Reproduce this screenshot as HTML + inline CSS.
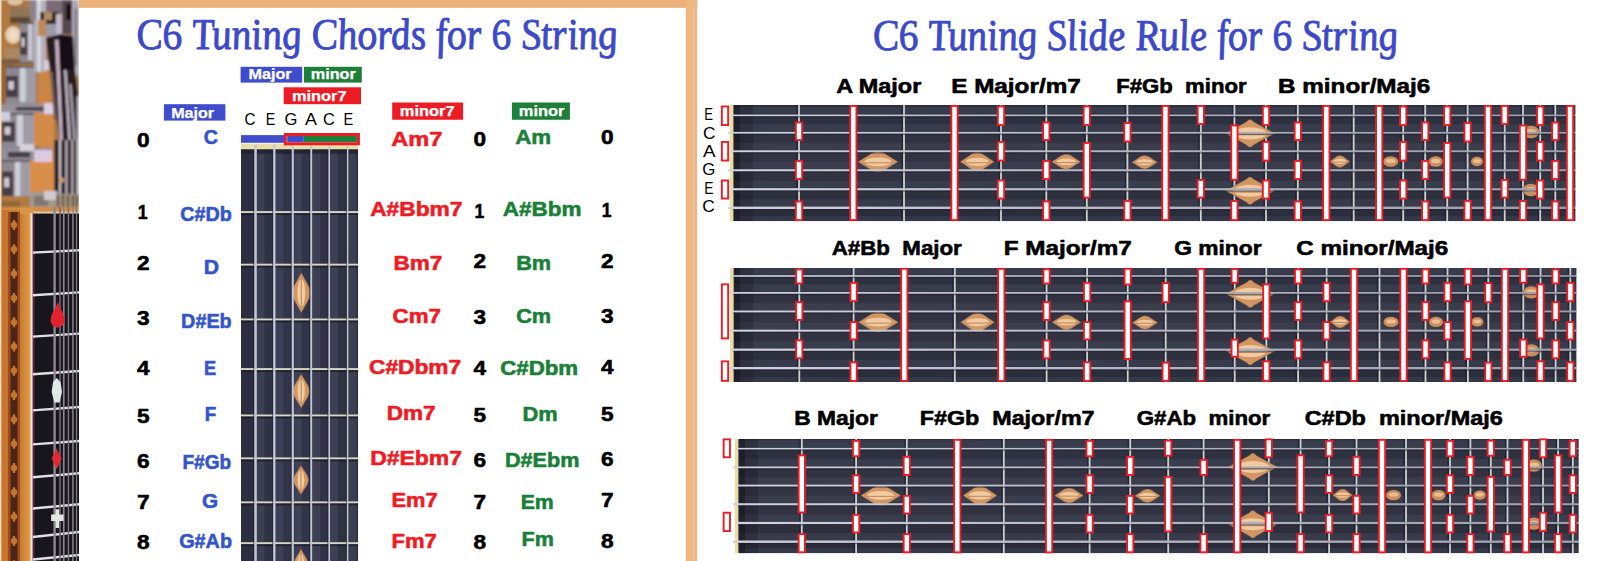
<!DOCTYPE html>
<html lang="en"><head><meta charset="utf-8"><title>C6 Tuning Chords and Slide Rule for 6 String</title>
<style>html,body{margin:0;padding:0;background:#fff;overflow:hidden}body{width:1600px;height:561px;font-family:"Liberation Sans",sans-serif}svg{display:block;position:absolute;left:0;top:0}text{white-space:pre}</style></head><body>
<svg width="1600" height="561" viewBox="0 0 1600 561">
<defs>
<linearGradient id="fbh1" x1="0" y1="0" x2="0" y2="1"><stop offset="0" stop-color="#2d2f3e"/><stop offset="0.5" stop-color="#323443"/><stop offset="1" stop-color="#2a2c3a"/></linearGradient>
<linearGradient id="fbh2" x1="0" y1="0" x2="0" y2="1"><stop offset="0" stop-color="#2d2f3e"/><stop offset="0.5" stop-color="#323443"/><stop offset="1" stop-color="#2a2c3a"/></linearGradient>
<linearGradient id="fbh3" x1="0" y1="0" x2="0" y2="1"><stop offset="0" stop-color="#2d2f3e"/><stop offset="0.5" stop-color="#323443"/><stop offset="1" stop-color="#2a2c3a"/></linearGradient>
<linearGradient id="fbv" x1="0" y1="0" x2="1" y2="0"><stop offset="0" stop-color="#2b2d3e"/><stop offset="0.5" stop-color="#34364b"/><stop offset="1" stop-color="#2d2f40"/></linearGradient>
<linearGradient id="wood" x1="0" y1="0" x2="1" y2="0"><stop offset="0" stop-color="#c6742c"/><stop offset="0.62" stop-color="#cc7c30"/><stop offset="0.84" stop-color="#da9444"/><stop offset="1" stop-color="#e4a858"/></linearGradient>
<filter id="soft" x="-5%" y="-5%" width="110%" height="110%"><feGaussianBlur stdDeviation="0.9"/></filter>
<filter id="soft2" x="-5%" y="-5%" width="110%" height="110%"><feGaussianBlur stdDeviation="0.45"/></filter>
<linearGradient id="strg" x1="0" y1="0" x2="1" y2="0"><stop offset="0" stop-color="#d0d3dd"/><stop offset="0.45" stop-color="#b4b7c2"/><stop offset="1" stop-color="#9c9fab"/></linearGradient>
</defs>
<rect x="0.00" y="0.00" width="1600.00" height="561.00" fill="#ffffff" />
<rect x="79.00" y="0.00" width="618.20" height="7.70" fill="#eeb07a" />
<rect x="79.00" y="5.20" width="607.00" height="2.50" fill="#e8b482" />
<rect x="685.75" y="0.00" width="7.85" height="561.00" fill="#f1b67d" />
<rect x="693.60" y="0.00" width="3.60" height="561.00" fill="#e7b78d" />
<clipPath id="pc"><rect x="0" y="0" width="79" height="561"/></clipPath>
<g id="photo" clip-path="url(#pc)">
<g filter="url(#soft)">
<rect x="0.0" y="0.0" width="79.0" height="212.0" fill="#a8784a" />
<rect x="0.0" y="0.0" width="14.0" height="212.0" fill="#b27a40" />
<rect x="0.0" y="60.0" width="14.0" height="50.0" fill="#9a6630" />
<rect x="38.0" y="70.0" width="14.0" height="36.0" fill="#cc8444" />
<rect x="34.0" y="113.0" width="20.0" height="33.0" fill="#d48a48" />
<rect x="28.0" y="158.0" width="29.0" height="38.0" fill="#d98e4a" />
<rect x="40.0" y="146.0" width="14.0" height="14.0" fill="#c98850" />
<ellipse cx="15" cy="2" rx="10" ry="6" fill="#a06c38"/><ellipse cx="15" cy="1" rx="8" ry="4.5" fill="#e0c4a2"/>
<ellipse cx="13" cy="35" rx="10.5" ry="11.5" fill="#a87238"/><ellipse cx="13" cy="35" rx="8" ry="9" fill="#e6ccae"/><ellipse cx="13" cy="35" rx="4.5" ry="5.5" fill="#efdcc6"/>
<rect x="10.0" y="8.0" width="22.0" height="14.0" fill="#8f7656" />
<rect x="10.0" y="17.0" width="20.0" height="6.0" fill="#5e4630" />
<rect x="5.0" y="48.0" width="19.0" height="12.0" fill="#a98862" />
<rect x="2.0" y="59.0" width="38.0" height="5.0" fill="#7a5c40" />
<rect x="20.0" y="22.0" width="18.0" height="40.0" fill="#8c8892" />
<rect x="28.3" y="24.0" width="3.6" height="36.0" fill="#cfcfd9" />
<rect x="31.9" y="23.0" width="6.1" height="38.0" fill="#a09ca6" />
<rect x="20.0" y="32.4" width="7.2" height="22.4" fill="#463e46" />
<rect x="21.4" y="38.0" width="3.2" height="8.8" fill="#cfcbd6" />
<rect x="20.0" y="22.0" width="18.0" height="2.0" fill="#5a525a" />
<rect x="6.0" y="66.0" width="30.0" height="38.0" fill="#8c8892" />
<rect x="19.8" y="68.0" width="6.0" height="34.0" fill="#cfcfd9" />
<rect x="25.8" y="67.0" width="10.2" height="36.0" fill="#a09ca6" />
<rect x="6.0" y="75.9" width="12.0" height="21.3" fill="#463e46" />
<rect x="8.4" y="81.2" width="5.4" height="8.4" fill="#cfcbd6" />
<rect x="6.0" y="66.0" width="30.0" height="2.0" fill="#5a525a" />
<rect x="2.0" y="113.0" width="32.0" height="35.0" fill="#8c8892" />
<rect x="16.7" y="115.0" width="6.4" height="31.0" fill="#cfcfd9" />
<rect x="23.1" y="114.0" width="10.9" height="33.0" fill="#a09ca6" />
<rect x="2.0" y="122.1" width="12.8" height="19.6" fill="#463e46" />
<rect x="4.6" y="127.0" width="5.8" height="7.7" fill="#cfcbd6" />
<rect x="2.0" y="113.0" width="32.0" height="2.0" fill="#5a525a" />
<rect x="2.0" y="160.0" width="28.0" height="44.0" fill="#8c8892" />
<rect x="14.9" y="162.0" width="5.6" height="40.0" fill="#cfcfd9" />
<rect x="20.5" y="161.0" width="9.5" height="42.0" fill="#a09ca6" />
<rect x="2.0" y="171.4" width="11.2" height="24.6" fill="#463e46" />
<rect x="4.2" y="177.6" width="5.0" height="9.7" fill="#cfcbd6" />
<rect x="2.0" y="160.0" width="28.0" height="2.0" fill="#5a525a" />
<rect x="34.0" y="0.0" width="12.0" height="72.0" fill="#b4b0ba" />
<rect x="37.5" y="0.0" width="3.0" height="72.0" fill="#dedee6" />
<rect x="30.0" y="0.0" width="6.0" height="20.0" fill="#8c848c" />
<rect x="72.0" y="0.0" width="7.0" height="76.0" fill="#aeaab4" />
<rect x="74.5" y="8.0" width="2.5" height="58.0" fill="#7e7882" />
<rect x="0.0" y="104.0" width="54.0" height="9.0" fill="#97919b" />
<rect x="16.0" y="107.0" width="34.0" height="3.5" fill="#463c44" />
<rect x="44.0" y="103.0" width="11.0" height="11.0" fill="#ddd0e2" />
<rect x="0.0" y="112.0" width="10.0" height="9.0" fill="#d0d0da" />
<rect x="0.0" y="148.0" width="52.0" height="12.0" fill="#938e98" />
<rect x="8.0" y="152.0" width="22.0" height="5.5" fill="#463e46" />
<rect x="34.0" y="150.0" width="18.0" height="12.0" fill="#dccae0" />
<rect x="20.0" y="144.0" width="14.0" height="7.0" fill="#d6d2dc" />
<rect x="46.0" y="0.0" width="16.0" height="12.0" fill="#7c6a76" />
<rect x="40.0" y="12.0" width="20.0" height="12.0" fill="#341a28" />
<rect x="44.0" y="12.0" width="8.0" height="8.0" fill="#b08a60" />
<rect x="46.0" y="24.0" width="14.0" height="12.0" fill="#9a9aaa" />
<rect x="38.0" y="20.0" width="8.0" height="16.0" fill="#c08a58" />
<rect x="56.0" y="14.0" width="10.0" height="22.0" fill="#c0b8c4" />
<rect x="62.0" y="0.0" width="10.0" height="34.0" fill="#54464f" />
<rect x="66.0" y="4.0" width="5.0" height="16.0" fill="#1a1016" />
<rect x="44.0" y="60.0" width="14.0" height="10.0" fill="#d6cedb" />
<rect x="48.0" y="50.0" width="8.0" height="12.0" fill="#b08858" />
<polygon points="46,38 60,34 73,36 75,70 79,104 79,142 60,142 55,104 50,72" fill="#281c24"/>
<rect x="60.0" y="36.0" width="13.0" height="34.0" fill="#141016" />
<polygon points="55,40 58.5,40 63,142 60,142" fill="#c9b4c6"/>
<polygon points="64,70 66.5,70 71,142 68.5,142" fill="#c2bcc6"/>
<polygon points="69,84 71.5,84 76,142 73.5,142" fill="#aaa4ae"/>
<polygon points="50,72 53,72 57,120 54,120" fill="#6e5e58"/>
<rect x="76.5" y="96.0" width="2.5" height="46.0" fill="#b0a8b2" />
<rect x="54.0" y="140.0" width="25.0" height="56.0" fill="#4e424a" />
<rect x="55.0" y="140.0" width="3.0" height="56.0" fill="#241a22" />
<rect x="59.0" y="140.0" width="2.0" height="56.0" fill="#cac2ca" />
<rect x="61.7" y="140.0" width="3.0" height="56.0" fill="#20161e" />
<rect x="65.4" y="140.0" width="2.0" height="56.0" fill="#beb6be" />
<rect x="68.1" y="140.0" width="2.6" height="56.0" fill="#281c24" />
<rect x="71.5" y="140.0" width="1.8" height="56.0" fill="#c6bec6" />
<rect x="73.9" y="140.0" width="2.2" height="56.0" fill="#2e222a" />
<rect x="76.6" y="140.0" width="2.0" height="56.0" fill="#dcd8dc" />
<circle cx="62" cy="180" r="2.6" fill="#d89858"/>
<rect x="30.0" y="192.0" width="27.0" height="15.0" fill="#a39990" />
<rect x="34.0" y="196.0" width="14.0" height="10.0" fill="#81776f" />
<rect x="44.0" y="191.0" width="13.0" height="9.0" fill="#cfcacc" />
<rect x="56.0" y="194.0" width="23.0" height="13.0" fill="#a89c8c" />
<rect x="56.7" y="195.0" width="2.6" height="12.0" fill="#6a5844" />
<rect x="61.7" y="195.0" width="2.6" height="12.0" fill="#6a5844" />
<rect x="66.7" y="195.0" width="2.6" height="12.0" fill="#6a5844" />
<rect x="71.7" y="195.0" width="2.6" height="12.0" fill="#6a5844" />
<rect x="75.7" y="195.0" width="2.6" height="12.0" fill="#6a5844" />
<rect x="0.0" y="196.0" width="30.0" height="11.0" fill="#b07a42" />
<rect x="0.0" y="201.0" width="20.0" height="6.0" fill="#96663a" />
<rect x="1.5" y="207.0" width="77.5" height="5.5" fill="#d48c40" />
</g>
<g filter="url(#soft2)">
<rect x="0.0" y="210.0" width="33.0" height="351.0" fill="url(#wood)" />
<rect x="8.0" y="212.0" width="12.0" height="349.0" fill="#9c4c20" />
<rect x="10.5" y="212.0" width="7.0" height="349.0" fill="#4c2612" />
<circle cx="14" cy="225.0" r="3.2" fill="#c27634"/>
<rect x="12.8" y="220.0" width="2.4" height="10" fill="#c27634"/>
<circle cx="14" cy="249.3" r="3.2" fill="#c27634"/>
<rect x="12.8" y="244.3" width="2.4" height="10" fill="#c27634"/>
<circle cx="14" cy="273.6" r="3.2" fill="#c27634"/>
<rect x="12.8" y="268.6" width="2.4" height="10" fill="#c27634"/>
<circle cx="14" cy="297.9" r="3.2" fill="#c27634"/>
<rect x="12.8" y="292.9" width="2.4" height="10" fill="#c27634"/>
<circle cx="14" cy="322.2" r="3.2" fill="#c27634"/>
<rect x="12.8" y="317.2" width="2.4" height="10" fill="#c27634"/>
<circle cx="14" cy="346.5" r="3.2" fill="#c27634"/>
<rect x="12.8" y="341.5" width="2.4" height="10" fill="#c27634"/>
<circle cx="14" cy="370.8" r="3.2" fill="#c27634"/>
<rect x="12.8" y="365.8" width="2.4" height="10" fill="#c27634"/>
<circle cx="14" cy="395.1" r="3.2" fill="#c27634"/>
<rect x="12.8" y="390.1" width="2.4" height="10" fill="#c27634"/>
<circle cx="14" cy="419.4" r="3.2" fill="#c27634"/>
<rect x="12.8" y="414.4" width="2.4" height="10" fill="#c27634"/>
<circle cx="14" cy="443.7" r="3.2" fill="#c27634"/>
<rect x="12.8" y="438.7" width="2.4" height="10" fill="#c27634"/>
<circle cx="14" cy="468.0" r="3.2" fill="#c27634"/>
<rect x="12.8" y="463.0" width="2.4" height="10" fill="#c27634"/>
<circle cx="14" cy="492.3" r="3.2" fill="#c27634"/>
<rect x="12.8" y="487.3" width="2.4" height="10" fill="#c27634"/>
<circle cx="14" cy="516.6" r="3.2" fill="#c27634"/>
<rect x="12.8" y="511.6" width="2.4" height="10" fill="#c27634"/>
<circle cx="14" cy="540.9" r="3.2" fill="#c27634"/>
<rect x="12.8" y="535.9" width="2.4" height="10" fill="#c27634"/>
<circle cx="14" cy="565.2" r="3.2" fill="#c27634"/>
<rect x="12.8" y="560.2" width="2.4" height="10" fill="#c27634"/>
<rect x="20.0" y="207.6" width="13.0" height="6.4" fill="#d89448" />
<rect x="30.4" y="213.0" width="2.4" height="348.0" fill="#efe3d6" />
<rect x="32.8" y="213.5" width="46.2" height="347.5" fill="#17131a" />
<rect x="32.8" y="213.5" width="1.8" height="347.5" fill="#4a2a4a" />
<rect x="0.0" y="0.0" width="1.4" height="561.0" fill="#f1dcc4" />
<polygon points="32.8,251.4 79,249.0 79,251.4 32.8,253.8" fill="#e2dfe6"/>
<polygon points="32.8,294.0 79,291.2 79,293.6 32.8,296.4" fill="#e2dfe6"/>
<polygon points="32.8,335.4 79,332.4 79,334.8 32.8,337.8" fill="#e2dfe6"/>
<polygon points="32.8,373.0 79,369.8 79,372.2 32.8,375.4" fill="#e2dfe6"/>
<polygon points="32.8,409.2 79,405.8 79,408.2 32.8,411.6" fill="#e2dfe6"/>
<polygon points="32.8,443.2 79,439.8 79,442.2 32.8,445.6" fill="#e2dfe6"/>
<polygon points="32.8,476.1 79,472.1 79,474.5 32.8,478.5" fill="#e2dfe6"/>
<polygon points="32.8,507.3 79,503.1 79,505.5 32.8,509.7" fill="#e2dfe6"/>
<polygon points="32.8,535.8 79,530.8 79,533.2 32.8,538.2" fill="#e2dfe6"/>
<polygon points="32.8,558.3 79,553.8 79,556.2 32.8,560.7" fill="#e2dfe6"/>
<rect x="53.4" y="207.0" width="2.4" height="354.0" fill="#8c8892" />
<rect x="59.2" y="207.0" width="1.6" height="354.0" fill="#6e6a74" />
<rect x="62.9" y="207.0" width="1.7" height="354.0" fill="#8a8690" />
<rect x="67.7" y="207.0" width="1.5" height="354.0" fill="#77737d" />
<rect x="72.2" y="207.0" width="1.4" height="354.0" fill="#8f8b95" />
<rect x="75.9" y="207.0" width="1.3" height="354.0" fill="#7f7b85" />
<path d="M57.9,301.5 C59.5,308 64.5,314 64.6,320 C64.6,325 60.5,327.5 57.6,327.6 C54.5,327.5 50.6,325 50.6,320 C50.8,314 56,308 57.9,301.5 Z" fill="#e0222e"/>
<path d="M56.8,378 L60.5,382 L62,392 L59.5,402.5 L54.5,402.5 L51.6,392 L53,382 Z" fill="#dfe9e4"/>
<path d="M56.6,448.5 L61.6,458.5 L56.8,469.5 L51.6,458.5 Z" fill="#df2a34"/>
<path d="M55.5,509.3 h3.6 v5.2 h4.4 v6.5 h-4.4 v7 h-3.6 v-7 h-4.4 v-6.5 h4.4 Z" fill="#e3e8e2"/>
</g>
</g>
<text x="137.60" y="49.40" font-family="'Liberation Serif', sans-serif" font-size="44" font-weight="normal" font-style="italic" fill="#3c49c9" textLength="481.40" lengthAdjust="spacingAndGlyphs" transform="translate(137.6,49.4) skewX(7) translate(-137.6,-49.4)" stroke="#3c49c9" stroke-width="0.9" stroke-linejoin="round">C6 Tuning Chords for 6 String</text>
<rect x="240.60" y="66.80" width="61.60" height="15.80" fill="#3f4ccb" />
<rect x="303.90" y="66.80" width="57.90" height="15.80" fill="#1d7f38" />
<rect x="283.70" y="87.30" width="77.30" height="16.90" fill="#ed1c24" />
<rect x="163.90" y="104.20" width="61.50" height="16.40" fill="#3f4ccb" />
<rect x="392.20" y="102.50" width="70.90" height="17.25" fill="#ed1c24" />
<rect x="511.90" y="102.50" width="58.00" height="17.25" fill="#1d7f38" />
<text x="248.40" y="79.40" font-family="'Liberation Sans', sans-serif" font-size="14.0" font-weight="bold" font-style="normal" fill="#fff" textLength="43.20" lengthAdjust="spacingAndGlyphs"  stroke="#fff" stroke-width="0.25" stroke-linejoin="round">Major</text>
<text x="310.80" y="79.40" font-family="'Liberation Sans', sans-serif" font-size="14.0" font-weight="bold" font-style="normal" fill="#fff" textLength="45.00" lengthAdjust="spacingAndGlyphs"  stroke="#fff" stroke-width="0.25" stroke-linejoin="round">minor</text>
<text x="292.00" y="100.80" font-family="'Liberation Sans', sans-serif" font-size="14.0" font-weight="bold" font-style="normal" fill="#fff" textLength="54.60" lengthAdjust="spacingAndGlyphs"  stroke="#fff" stroke-width="0.25" stroke-linejoin="round">minor7</text>
<text x="171.20" y="118.00" font-family="'Liberation Sans', sans-serif" font-size="14.0" font-weight="bold" font-style="normal" fill="#fff" textLength="42.80" lengthAdjust="spacingAndGlyphs"  stroke="#fff" stroke-width="0.25" stroke-linejoin="round">Major</text>
<text x="399.80" y="116.10" font-family="'Liberation Sans', sans-serif" font-size="14.0" font-weight="bold" font-style="normal" fill="#fff" textLength="54.80" lengthAdjust="spacingAndGlyphs"  stroke="#fff" stroke-width="0.25" stroke-linejoin="round">minor7</text>
<text x="518.80" y="116.10" font-family="'Liberation Sans', sans-serif" font-size="14.0" font-weight="bold" font-style="normal" fill="#fff" textLength="45.60" lengthAdjust="spacingAndGlyphs"  stroke="#fff" stroke-width="0.25" stroke-linejoin="round">minor</text>
<text x="244.40" y="124.50" font-family="'Liberation Sans', sans-serif" font-size="17.2" font-weight="normal" font-style="normal" fill="#000" textLength="11.00" lengthAdjust="spacingAndGlyphs" >C</text>
<text x="265.80" y="124.50" font-family="'Liberation Sans', sans-serif" font-size="17.2" font-weight="normal" font-style="normal" fill="#000" textLength="9.60" lengthAdjust="spacingAndGlyphs" >E</text>
<text x="284.40" y="124.50" font-family="'Liberation Sans', sans-serif" font-size="17.2" font-weight="normal" font-style="normal" fill="#000" textLength="12.90" lengthAdjust="spacingAndGlyphs" >G</text>
<text x="305.00" y="124.50" font-family="'Liberation Sans', sans-serif" font-size="17.2" font-weight="normal" font-style="normal" fill="#000" textLength="11.90" lengthAdjust="spacingAndGlyphs" >A</text>
<text x="322.90" y="124.50" font-family="'Liberation Sans', sans-serif" font-size="17.2" font-weight="normal" font-style="normal" fill="#000" textLength="11.90" lengthAdjust="spacingAndGlyphs" >C</text>
<text x="343.40" y="124.50" font-family="'Liberation Sans', sans-serif" font-size="17.2" font-weight="normal" font-style="normal" fill="#000" textLength="9.70" lengthAdjust="spacingAndGlyphs" >E</text>
<rect x="241.00" y="135.10" width="43.00" height="7.70" fill="#3f4ccb" />
<rect x="287.20" y="136.00" width="16.60" height="6.30" fill="#3f4ccb" />
<rect x="303.80" y="136.00" width="53.10" height="6.30" fill="#1d7f38" />
<clipPath id="vc"><rect x="241.0" y="143.7" width="117.20" height="419.30"/></clipPath>
<g clip-path="url(#vc)"><g filter="url(#soft2)">
<rect x="241.00" y="143.70" width="117.20" height="419.30" fill="url(#fbv)" />
<rect x="257.00" y="147.70" width="7.50" height="413.30" fill="#4a4d62" opacity="0.5"/>
<rect x="275.80" y="147.70" width="7.50" height="413.30" fill="#4a4d62" opacity="0.5"/>
<rect x="294.20" y="147.70" width="7.50" height="413.30" fill="#4a4d62" opacity="0.5"/>
<rect x="312.70" y="147.70" width="7.50" height="413.30" fill="#4a4d62" opacity="0.5"/>
<rect x="330.70" y="147.70" width="7.50" height="413.30" fill="#4a4d62" opacity="0.5"/>
<rect x="349.10" y="147.70" width="7.50" height="413.30" fill="#4a4d62" opacity="0.5"/>
<rect x="241.00" y="143.70" width="117.20" height="5.70" fill="#eadfa8" />
<rect x="241.00" y="149.40" width="117.20" height="4.30" fill="#1d1e2a" opacity="0.7"/>
<rect x="241.00" y="211.10" width="117.20" height="2.00" fill="#d8d6c0" />
<rect x="241.00" y="213.20" width="117.20" height="1.80" fill="#1b1c2a" opacity="0.8"/>
<rect x="241.00" y="263.70" width="117.20" height="2.00" fill="#d8d6c0" />
<rect x="241.00" y="265.80" width="117.20" height="1.80" fill="#1b1c2a" opacity="0.8"/>
<rect x="241.00" y="318.50" width="117.20" height="2.00" fill="#d8d6c0" />
<rect x="241.00" y="320.60" width="117.20" height="1.80" fill="#1b1c2a" opacity="0.8"/>
<rect x="241.00" y="368.10" width="117.20" height="2.00" fill="#d8d6c0" />
<rect x="241.00" y="370.20" width="117.20" height="1.80" fill="#1b1c2a" opacity="0.8"/>
<rect x="241.00" y="414.50" width="117.20" height="2.00" fill="#d8d6c0" />
<rect x="241.00" y="416.60" width="117.20" height="1.80" fill="#1b1c2a" opacity="0.8"/>
<rect x="241.00" y="457.40" width="117.20" height="2.00" fill="#d8d6c0" />
<rect x="241.00" y="459.50" width="117.20" height="1.80" fill="#1b1c2a" opacity="0.8"/>
<rect x="241.00" y="501.40" width="117.20" height="2.00" fill="#d8d6c0" />
<rect x="241.00" y="503.50" width="117.20" height="1.80" fill="#1b1c2a" opacity="0.8"/>
<rect x="241.00" y="542.20" width="117.20" height="2.00" fill="#d8d6c0" />
<rect x="241.00" y="544.30" width="117.20" height="1.80" fill="#1b1c2a" opacity="0.8"/>
<path d="M301.30,272.80 L308.86,286.40 Q311.74,292.80 308.86,299.20 L301.30,312.80 L293.74,299.20 Q290.86,292.80 293.74,286.40 Z" fill="#d39660" stroke="#6e564c" stroke-width="0.7" stroke-opacity="0.55"/>
<ellipse cx="301.30" cy="292.80" rx="3.96" ry="13.60" fill="#efcaa2"/>
<line x1="301.30" y1="278.40" x2="301.30" y2="307.20" stroke="#c28c5e" stroke-width="1.1"/>
<path d="M301.20,374.10 L308.13,385.66 Q310.77,391.10 308.13,396.54 L301.20,408.10 L294.27,396.54 Q291.63,391.10 294.27,385.66 Z" fill="#d39660" stroke="#6e564c" stroke-width="0.7" stroke-opacity="0.55"/>
<ellipse cx="301.20" cy="391.10" rx="3.63" ry="11.56" fill="#efcaa2"/>
<line x1="301.20" y1="378.86" x2="301.20" y2="403.34" stroke="#c28c5e" stroke-width="1.1"/>
<path d="M301.00,465.50 L307.30,475.36 Q309.70,480.00 307.30,484.64 L301.00,494.50 L294.70,484.64 Q292.30,480.00 294.70,475.36 Z" fill="#d39660" stroke="#6e564c" stroke-width="0.7" stroke-opacity="0.55"/>
<ellipse cx="301.00" cy="480.00" rx="3.30" ry="9.86" fill="#efcaa2"/>
<line x1="301.00" y1="469.56" x2="301.00" y2="490.44" stroke="#c28c5e" stroke-width="1.1"/>
<path d="M301.00,549.00 L306.88,559.20 Q309.12,564.00 306.88,568.80 L301.00,579.00 L295.12,568.80 Q292.88,564.00 295.12,559.20 Z" fill="#d39660" stroke="#6e564c" stroke-width="0.7" stroke-opacity="0.55"/>
<ellipse cx="301.00" cy="564.00" rx="3.08" ry="10.20" fill="#efcaa2"/>
<line x1="301.00" y1="553.20" x2="301.00" y2="574.80" stroke="#c28c5e" stroke-width="1.1"/>
<rect x="254.20" y="144.70" width="2.60" height="416.30" fill="#c3c8d6" />
<rect x="253.10" y="149.70" width="1.10" height="411.30" fill="#1c1d2b" opacity="0.5"/>
<rect x="273.10" y="144.70" width="2.40" height="416.30" fill="#c3c8d6" />
<rect x="272.00" y="149.70" width="1.10" height="411.30" fill="#1c1d2b" opacity="0.5"/>
<rect x="291.60" y="144.70" width="2.20" height="416.30" fill="#c3c8d6" />
<rect x="290.50" y="149.70" width="1.10" height="411.30" fill="#1c1d2b" opacity="0.5"/>
<rect x="310.20" y="144.70" width="2.00" height="416.30" fill="#c3c8d6" />
<rect x="309.10" y="149.70" width="1.10" height="411.30" fill="#1c1d2b" opacity="0.5"/>
<rect x="328.30" y="144.70" width="1.80" height="416.30" fill="#c3c8d6" />
<rect x="327.20" y="149.70" width="1.10" height="411.30" fill="#1c1d2b" opacity="0.5"/>
<rect x="346.80" y="144.70" width="1.60" height="416.30" fill="#c3c8d6" />
<rect x="345.70" y="149.70" width="1.10" height="411.30" fill="#1c1d2b" opacity="0.5"/>
</g></g>
<rect x="285.3" y="134.5" width="73.1" height="9.3" fill="none" stroke="#ed1c24" stroke-width="3"/>
<text x="137.00" y="146.70" font-family="'Liberation Sans', sans-serif" font-size="19.5" font-weight="bold" font-style="normal" fill="#000" textLength="12.60" lengthAdjust="spacingAndGlyphs"  stroke="#000" stroke-width="0.55" stroke-linejoin="round">0</text>
<text x="473.60" y="145.70" font-family="'Liberation Sans', sans-serif" font-size="19.5" font-weight="bold" font-style="normal" fill="#000" textLength="12.60" lengthAdjust="spacingAndGlyphs"  stroke="#000" stroke-width="0.55" stroke-linejoin="round">0</text>
<text x="601.00" y="144.40" font-family="'Liberation Sans', sans-serif" font-size="19.5" font-weight="bold" font-style="normal" fill="#000" textLength="12.60" lengthAdjust="spacingAndGlyphs"  stroke="#000" stroke-width="0.55" stroke-linejoin="round">0</text>
<text x="137.80" y="218.80" font-family="'Liberation Sans', sans-serif" font-size="19.5" font-weight="bold" font-style="normal" fill="#000" textLength="9.80" lengthAdjust="spacingAndGlyphs"  stroke="#000" stroke-width="0.55" stroke-linejoin="round">1</text>
<text x="474.40" y="218.00" font-family="'Liberation Sans', sans-serif" font-size="19.5" font-weight="bold" font-style="normal" fill="#000" textLength="9.80" lengthAdjust="spacingAndGlyphs"  stroke="#000" stroke-width="0.55" stroke-linejoin="round">1</text>
<text x="601.80" y="217.00" font-family="'Liberation Sans', sans-serif" font-size="19.5" font-weight="bold" font-style="normal" fill="#000" textLength="9.80" lengthAdjust="spacingAndGlyphs"  stroke="#000" stroke-width="0.55" stroke-linejoin="round">1</text>
<text x="137.00" y="270.20" font-family="'Liberation Sans', sans-serif" font-size="19.5" font-weight="bold" font-style="normal" fill="#000" textLength="12.60" lengthAdjust="spacingAndGlyphs"  stroke="#000" stroke-width="0.55" stroke-linejoin="round">2</text>
<text x="473.60" y="268.30" font-family="'Liberation Sans', sans-serif" font-size="19.5" font-weight="bold" font-style="normal" fill="#000" textLength="12.60" lengthAdjust="spacingAndGlyphs"  stroke="#000" stroke-width="0.55" stroke-linejoin="round">2</text>
<text x="601.00" y="267.90" font-family="'Liberation Sans', sans-serif" font-size="19.5" font-weight="bold" font-style="normal" fill="#000" textLength="12.60" lengthAdjust="spacingAndGlyphs"  stroke="#000" stroke-width="0.55" stroke-linejoin="round">2</text>
<text x="137.00" y="325.00" font-family="'Liberation Sans', sans-serif" font-size="19.5" font-weight="bold" font-style="normal" fill="#000" textLength="12.60" lengthAdjust="spacingAndGlyphs"  stroke="#000" stroke-width="0.55" stroke-linejoin="round">3</text>
<text x="473.60" y="324.00" font-family="'Liberation Sans', sans-serif" font-size="19.5" font-weight="bold" font-style="normal" fill="#000" textLength="12.60" lengthAdjust="spacingAndGlyphs"  stroke="#000" stroke-width="0.55" stroke-linejoin="round">3</text>
<text x="601.00" y="323.20" font-family="'Liberation Sans', sans-serif" font-size="19.5" font-weight="bold" font-style="normal" fill="#000" textLength="12.60" lengthAdjust="spacingAndGlyphs"  stroke="#000" stroke-width="0.55" stroke-linejoin="round">3</text>
<text x="137.00" y="375.40" font-family="'Liberation Sans', sans-serif" font-size="19.5" font-weight="bold" font-style="normal" fill="#000" textLength="12.60" lengthAdjust="spacingAndGlyphs"  stroke="#000" stroke-width="0.55" stroke-linejoin="round">4</text>
<text x="473.60" y="374.70" font-family="'Liberation Sans', sans-serif" font-size="19.5" font-weight="bold" font-style="normal" fill="#000" textLength="12.60" lengthAdjust="spacingAndGlyphs"  stroke="#000" stroke-width="0.55" stroke-linejoin="round">4</text>
<text x="601.00" y="373.50" font-family="'Liberation Sans', sans-serif" font-size="19.5" font-weight="bold" font-style="normal" fill="#000" textLength="12.60" lengthAdjust="spacingAndGlyphs"  stroke="#000" stroke-width="0.55" stroke-linejoin="round">4</text>
<text x="137.00" y="422.60" font-family="'Liberation Sans', sans-serif" font-size="19.5" font-weight="bold" font-style="normal" fill="#000" textLength="12.60" lengthAdjust="spacingAndGlyphs"  stroke="#000" stroke-width="0.55" stroke-linejoin="round">5</text>
<text x="473.60" y="422.00" font-family="'Liberation Sans', sans-serif" font-size="19.5" font-weight="bold" font-style="normal" fill="#000" textLength="12.60" lengthAdjust="spacingAndGlyphs"  stroke="#000" stroke-width="0.55" stroke-linejoin="round">5</text>
<text x="601.00" y="420.70" font-family="'Liberation Sans', sans-serif" font-size="19.5" font-weight="bold" font-style="normal" fill="#000" textLength="12.60" lengthAdjust="spacingAndGlyphs"  stroke="#000" stroke-width="0.55" stroke-linejoin="round">5</text>
<text x="137.00" y="467.80" font-family="'Liberation Sans', sans-serif" font-size="19.5" font-weight="bold" font-style="normal" fill="#000" textLength="12.60" lengthAdjust="spacingAndGlyphs"  stroke="#000" stroke-width="0.55" stroke-linejoin="round">6</text>
<text x="473.60" y="466.80" font-family="'Liberation Sans', sans-serif" font-size="19.5" font-weight="bold" font-style="normal" fill="#000" textLength="12.60" lengthAdjust="spacingAndGlyphs"  stroke="#000" stroke-width="0.55" stroke-linejoin="round">6</text>
<text x="601.00" y="466.00" font-family="'Liberation Sans', sans-serif" font-size="19.5" font-weight="bold" font-style="normal" fill="#000" textLength="12.60" lengthAdjust="spacingAndGlyphs"  stroke="#000" stroke-width="0.55" stroke-linejoin="round">6</text>
<text x="137.00" y="509.20" font-family="'Liberation Sans', sans-serif" font-size="19.5" font-weight="bold" font-style="normal" fill="#000" textLength="12.60" lengthAdjust="spacingAndGlyphs"  stroke="#000" stroke-width="0.55" stroke-linejoin="round">7</text>
<text x="473.60" y="508.60" font-family="'Liberation Sans', sans-serif" font-size="19.5" font-weight="bold" font-style="normal" fill="#000" textLength="12.60" lengthAdjust="spacingAndGlyphs"  stroke="#000" stroke-width="0.55" stroke-linejoin="round">7</text>
<text x="601.00" y="507.40" font-family="'Liberation Sans', sans-serif" font-size="19.5" font-weight="bold" font-style="normal" fill="#000" textLength="12.60" lengthAdjust="spacingAndGlyphs"  stroke="#000" stroke-width="0.55" stroke-linejoin="round">7</text>
<text x="137.00" y="549.30" font-family="'Liberation Sans', sans-serif" font-size="19.5" font-weight="bold" font-style="normal" fill="#000" textLength="12.60" lengthAdjust="spacingAndGlyphs"  stroke="#000" stroke-width="0.55" stroke-linejoin="round">8</text>
<text x="473.60" y="548.70" font-family="'Liberation Sans', sans-serif" font-size="19.5" font-weight="bold" font-style="normal" fill="#000" textLength="12.60" lengthAdjust="spacingAndGlyphs"  stroke="#000" stroke-width="0.55" stroke-linejoin="round">8</text>
<text x="601.00" y="548.00" font-family="'Liberation Sans', sans-serif" font-size="19.5" font-weight="bold" font-style="normal" fill="#000" textLength="12.60" lengthAdjust="spacingAndGlyphs"  stroke="#000" stroke-width="0.55" stroke-linejoin="round">8</text>
<text x="203.80" y="143.50" font-family="'Liberation Sans', sans-serif" font-size="19.5" font-weight="bold" font-style="normal" fill="#3355cc" textLength="14.20" lengthAdjust="spacingAndGlyphs"  stroke="#3355cc" stroke-width="0.55" stroke-linejoin="round">C</text>
<text x="180.20" y="221.20" font-family="'Liberation Sans', sans-serif" font-size="19.5" font-weight="bold" font-style="normal" fill="#3355cc" textLength="51.50" lengthAdjust="spacingAndGlyphs"  stroke="#3355cc" stroke-width="0.55" stroke-linejoin="round">C#Db</text>
<text x="203.80" y="273.70" font-family="'Liberation Sans', sans-serif" font-size="19.5" font-weight="bold" font-style="normal" fill="#3355cc" textLength="15.30" lengthAdjust="spacingAndGlyphs"  stroke="#3355cc" stroke-width="0.55" stroke-linejoin="round">D</text>
<text x="181.10" y="327.80" font-family="'Liberation Sans', sans-serif" font-size="19.5" font-weight="bold" font-style="normal" fill="#3355cc" textLength="50.60" lengthAdjust="spacingAndGlyphs"  stroke="#3355cc" stroke-width="0.55" stroke-linejoin="round">D#Eb</text>
<text x="204.10" y="375.40" font-family="'Liberation Sans', sans-serif" font-size="19.5" font-weight="bold" font-style="normal" fill="#3355cc" textLength="12.20" lengthAdjust="spacingAndGlyphs"  stroke="#3355cc" stroke-width="0.55" stroke-linejoin="round">E</text>
<text x="204.80" y="420.60" font-family="'Liberation Sans', sans-serif" font-size="19.5" font-weight="bold" font-style="normal" fill="#3355cc" textLength="11.50" lengthAdjust="spacingAndGlyphs"  stroke="#3355cc" stroke-width="0.55" stroke-linejoin="round">F</text>
<text x="182.40" y="469.00" font-family="'Liberation Sans', sans-serif" font-size="19.5" font-weight="bold" font-style="normal" fill="#3355cc" textLength="48.80" lengthAdjust="spacingAndGlyphs"  stroke="#3355cc" stroke-width="0.55" stroke-linejoin="round">F#Gb</text>
<text x="202.10" y="508.00" font-family="'Liberation Sans', sans-serif" font-size="19.5" font-weight="bold" font-style="normal" fill="#3355cc" textLength="16.10" lengthAdjust="spacingAndGlyphs"  stroke="#3355cc" stroke-width="0.55" stroke-linejoin="round">G</text>
<text x="179.20" y="547.70" font-family="'Liberation Sans', sans-serif" font-size="19.5" font-weight="bold" font-style="normal" fill="#3355cc" textLength="52.80" lengthAdjust="spacingAndGlyphs"  stroke="#3355cc" stroke-width="0.55" stroke-linejoin="round">G#Ab</text>
<text x="391.20" y="145.70" font-family="'Liberation Sans', sans-serif" font-size="19.5" font-weight="bold" font-style="normal" fill="#ee1c25" textLength="51.20" lengthAdjust="spacingAndGlyphs"  stroke="#ee1c25" stroke-width="0.55" stroke-linejoin="round">Am7</text>
<text x="370.20" y="215.70" font-family="'Liberation Sans', sans-serif" font-size="19.5" font-weight="bold" font-style="normal" fill="#ee1c25" textLength="92.20" lengthAdjust="spacingAndGlyphs"  stroke="#ee1c25" stroke-width="0.55" stroke-linejoin="round">A#Bbm7</text>
<text x="393.50" y="270.00" font-family="'Liberation Sans', sans-serif" font-size="19.5" font-weight="bold" font-style="normal" fill="#ee1c25" textLength="48.90" lengthAdjust="spacingAndGlyphs"  stroke="#ee1c25" stroke-width="0.55" stroke-linejoin="round">Bm7</text>
<text x="392.60" y="322.70" font-family="'Liberation Sans', sans-serif" font-size="19.5" font-weight="bold" font-style="normal" fill="#ee1c25" textLength="48.40" lengthAdjust="spacingAndGlyphs"  stroke="#ee1c25" stroke-width="0.55" stroke-linejoin="round">Cm7</text>
<text x="369.00" y="373.50" font-family="'Liberation Sans', sans-serif" font-size="19.5" font-weight="bold" font-style="normal" fill="#ee1c25" textLength="92.20" lengthAdjust="spacingAndGlyphs"  stroke="#ee1c25" stroke-width="0.55" stroke-linejoin="round">C#Dbm7</text>
<text x="386.80" y="420.00" font-family="'Liberation Sans', sans-serif" font-size="19.5" font-weight="bold" font-style="normal" fill="#ee1c25" textLength="48.80" lengthAdjust="spacingAndGlyphs"  stroke="#ee1c25" stroke-width="0.55" stroke-linejoin="round">Dm7</text>
<text x="370.20" y="464.50" font-family="'Liberation Sans', sans-serif" font-size="19.5" font-weight="bold" font-style="normal" fill="#ee1c25" textLength="91.80" lengthAdjust="spacingAndGlyphs"  stroke="#ee1c25" stroke-width="0.55" stroke-linejoin="round">D#Ebm7</text>
<text x="391.50" y="506.60" font-family="'Liberation Sans', sans-serif" font-size="19.5" font-weight="bold" font-style="normal" fill="#ee1c25" textLength="46.10" lengthAdjust="spacingAndGlyphs"  stroke="#ee1c25" stroke-width="0.55" stroke-linejoin="round">Em7</text>
<text x="391.50" y="548.00" font-family="'Liberation Sans', sans-serif" font-size="19.5" font-weight="bold" font-style="normal" fill="#ee1c25" textLength="45.30" lengthAdjust="spacingAndGlyphs"  stroke="#ee1c25" stroke-width="0.55" stroke-linejoin="round">Fm7</text>
<text x="515.20" y="144.40" font-family="'Liberation Sans', sans-serif" font-size="19.5" font-weight="bold" font-style="normal" fill="#1a7f37" textLength="36.00" lengthAdjust="spacingAndGlyphs"  stroke="#1a7f37" stroke-width="0.55" stroke-linejoin="round">Am</text>
<text x="502.80" y="215.70" font-family="'Liberation Sans', sans-serif" font-size="19.5" font-weight="bold" font-style="normal" fill="#1a7f37" textLength="78.70" lengthAdjust="spacingAndGlyphs"  stroke="#1a7f37" stroke-width="0.55" stroke-linejoin="round">A#Bbm</text>
<text x="516.20" y="270.00" font-family="'Liberation Sans', sans-serif" font-size="19.5" font-weight="bold" font-style="normal" fill="#1a7f37" textLength="35.00" lengthAdjust="spacingAndGlyphs"  stroke="#1a7f37" stroke-width="0.55" stroke-linejoin="round">Bm</text>
<text x="516.20" y="323.20" font-family="'Liberation Sans', sans-serif" font-size="19.5" font-weight="bold" font-style="normal" fill="#1a7f37" textLength="35.00" lengthAdjust="spacingAndGlyphs"  stroke="#1a7f37" stroke-width="0.55" stroke-linejoin="round">Cm</text>
<text x="500.20" y="374.70" font-family="'Liberation Sans', sans-serif" font-size="19.5" font-weight="bold" font-style="normal" fill="#1a7f37" textLength="78.00" lengthAdjust="spacingAndGlyphs"  stroke="#1a7f37" stroke-width="0.55" stroke-linejoin="round">C#Dbm</text>
<text x="522.60" y="420.70" font-family="'Liberation Sans', sans-serif" font-size="19.5" font-weight="bold" font-style="normal" fill="#1a7f37" textLength="35.20" lengthAdjust="spacingAndGlyphs"  stroke="#1a7f37" stroke-width="0.55" stroke-linejoin="round">Dm</text>
<text x="504.90" y="466.80" font-family="'Liberation Sans', sans-serif" font-size="19.5" font-weight="bold" font-style="normal" fill="#1a7f37" textLength="74.50" lengthAdjust="spacingAndGlyphs"  stroke="#1a7f37" stroke-width="0.55" stroke-linejoin="round">D#Ebm</text>
<text x="520.70" y="508.60" font-family="'Liberation Sans', sans-serif" font-size="19.5" font-weight="bold" font-style="normal" fill="#1a7f37" textLength="33.10" lengthAdjust="spacingAndGlyphs"  stroke="#1a7f37" stroke-width="0.55" stroke-linejoin="round">Em</text>
<text x="521.50" y="546.00" font-family="'Liberation Sans', sans-serif" font-size="19.5" font-weight="bold" font-style="normal" fill="#1a7f37" textLength="32.30" lengthAdjust="spacingAndGlyphs"  stroke="#1a7f37" stroke-width="0.55" stroke-linejoin="round">Fm</text>
<text x="874.00" y="50.10" font-family="'Liberation Serif', sans-serif" font-size="44" font-weight="normal" font-style="italic" fill="#3c49c9" textLength="525.40" lengthAdjust="spacingAndGlyphs" transform="translate(874,50.1) skewX(7) translate(-874,-50.1)" stroke="#3c49c9" stroke-width="0.9" stroke-linejoin="round">C6 Tuning Slide Rule for 6 String</text>
<clipPath id="hc1"><rect x="723.00" y="105.00" width="852.60" height="116.20"/></clipPath>
<g clip-path="url(#hc1)"><g filter="url(#soft2)">
<rect x="731.00" y="105.00" width="844.60" height="116.20" fill="url(#fbh1)" />
<rect x="734.00" y="106.90" width="841.60" height="6.90" fill="#444759" opacity="0.5"/>
<rect x="734.00" y="124.30" width="841.60" height="6.90" fill="#444759" opacity="0.5"/>
<rect x="734.00" y="142.80" width="841.60" height="6.90" fill="#444759" opacity="0.5"/>
<rect x="734.00" y="161.80" width="841.60" height="6.90" fill="#444759" opacity="0.5"/>
<rect x="734.00" y="180.80" width="841.60" height="6.90" fill="#444759" opacity="0.5"/>
<rect x="734.00" y="199.30" width="841.60" height="6.90" fill="#444759" opacity="0.5"/>
<rect x="734.00" y="216.20" width="841.60" height="5.00" fill="#484c62" opacity="0.4"/>
<rect x="729.80" y="105.00" width="3.80" height="116.20" fill="#e9dca4" />
<rect x="733.60" y="105.00" width="6.40" height="116.20" fill="#181924" opacity="0.75"/>
<rect x="740.00" y="105.00" width="13.00" height="116.20" fill="#181924" opacity="0.3"/>
<rect x="796.40" y="105.00" width="1.70" height="116.20" fill="#20223a" opacity="0.85"/>
<rect x="798.10" y="105.00" width="1.80" height="116.20" fill="#cfd0cb" />
<rect x="850.70" y="105.00" width="1.70" height="116.20" fill="#20223a" opacity="0.85"/>
<rect x="852.40" y="105.00" width="1.80" height="116.20" fill="#cfd0cb" />
<rect x="901.40" y="105.00" width="1.70" height="116.20" fill="#20223a" opacity="0.85"/>
<rect x="903.10" y="105.00" width="1.80" height="116.20" fill="#cfd0cb" />
<rect x="951.90" y="105.00" width="1.70" height="116.20" fill="#20223a" opacity="0.85"/>
<rect x="953.60" y="105.00" width="1.80" height="116.20" fill="#cfd0cb" />
<rect x="998.40" y="105.00" width="1.70" height="116.20" fill="#20223a" opacity="0.85"/>
<rect x="1000.10" y="105.00" width="1.80" height="116.20" fill="#cfd0cb" />
<rect x="1043.70" y="105.00" width="1.70" height="116.20" fill="#20223a" opacity="0.85"/>
<rect x="1045.40" y="105.00" width="1.80" height="116.20" fill="#cfd0cb" />
<rect x="1084.20" y="105.00" width="1.70" height="116.20" fill="#20223a" opacity="0.85"/>
<rect x="1085.90" y="105.00" width="1.80" height="116.20" fill="#cfd0cb" />
<rect x="1124.80" y="105.00" width="1.70" height="116.20" fill="#20223a" opacity="0.85"/>
<rect x="1126.50" y="105.00" width="1.80" height="116.20" fill="#cfd0cb" />
<rect x="1162.80" y="105.00" width="1.70" height="116.20" fill="#20223a" opacity="0.85"/>
<rect x="1164.50" y="105.00" width="1.80" height="116.20" fill="#cfd0cb" />
<rect x="1198.20" y="105.00" width="1.70" height="116.20" fill="#20223a" opacity="0.85"/>
<rect x="1199.90" y="105.00" width="1.80" height="116.20" fill="#cfd0cb" />
<rect x="1231.80" y="105.00" width="1.70" height="116.20" fill="#20223a" opacity="0.85"/>
<rect x="1233.50" y="105.00" width="1.80" height="116.20" fill="#cfd0cb" />
<rect x="1263.40" y="105.00" width="1.70" height="116.20" fill="#20223a" opacity="0.85"/>
<rect x="1265.10" y="105.00" width="1.80" height="116.20" fill="#cfd0cb" />
<rect x="1295.20" y="105.00" width="1.70" height="116.20" fill="#20223a" opacity="0.85"/>
<rect x="1296.90" y="105.00" width="1.80" height="116.20" fill="#cfd0cb" />
<rect x="1323.70" y="105.00" width="1.70" height="116.20" fill="#20223a" opacity="0.85"/>
<rect x="1325.40" y="105.00" width="1.80" height="116.20" fill="#cfd0cb" />
<rect x="1351.10" y="105.00" width="1.70" height="116.20" fill="#20223a" opacity="0.85"/>
<rect x="1352.80" y="105.00" width="1.80" height="116.20" fill="#cfd0cb" />
<rect x="1376.60" y="105.00" width="1.70" height="116.20" fill="#20223a" opacity="0.85"/>
<rect x="1378.30" y="105.00" width="1.80" height="116.20" fill="#cfd0cb" />
<rect x="1400.60" y="105.00" width="1.70" height="116.20" fill="#20223a" opacity="0.85"/>
<rect x="1402.30" y="105.00" width="1.80" height="116.20" fill="#cfd0cb" />
<rect x="1422.60" y="105.00" width="1.70" height="116.20" fill="#20223a" opacity="0.85"/>
<rect x="1424.30" y="105.00" width="1.80" height="116.20" fill="#cfd0cb" />
<rect x="1444.60" y="105.00" width="1.70" height="116.20" fill="#20223a" opacity="0.85"/>
<rect x="1446.30" y="105.00" width="1.80" height="116.20" fill="#cfd0cb" />
<rect x="1465.00" y="105.00" width="1.70" height="116.20" fill="#20223a" opacity="0.85"/>
<rect x="1466.70" y="105.00" width="1.80" height="116.20" fill="#cfd0cb" />
<rect x="1485.40" y="105.00" width="1.70" height="116.20" fill="#20223a" opacity="0.85"/>
<rect x="1487.10" y="105.00" width="1.80" height="116.20" fill="#cfd0cb" />
<rect x="1502.10" y="105.00" width="1.70" height="116.20" fill="#20223a" opacity="0.85"/>
<rect x="1503.80" y="105.00" width="1.80" height="116.20" fill="#cfd0cb" />
<rect x="1520.40" y="105.00" width="1.70" height="116.20" fill="#20223a" opacity="0.85"/>
<rect x="1522.10" y="105.00" width="1.80" height="116.20" fill="#cfd0cb" />
<rect x="1537.60" y="105.00" width="1.70" height="116.20" fill="#20223a" opacity="0.85"/>
<rect x="1539.30" y="105.00" width="1.80" height="116.20" fill="#cfd0cb" />
<rect x="1552.70" y="105.00" width="1.70" height="116.20" fill="#20223a" opacity="0.85"/>
<rect x="1554.40" y="105.00" width="1.80" height="116.20" fill="#cfd0cb" />
<rect x="1567.40" y="105.00" width="1.70" height="116.20" fill="#20223a" opacity="0.85"/>
<rect x="1569.10" y="105.00" width="1.80" height="116.20" fill="#cfd0cb" />
<path d="M858.00,161.80 L871.60,153.40 Q878.00,150.20 884.40,153.40 L898.00,161.80 L884.40,170.20 Q878.00,173.40 871.60,170.20 Z" fill="#d39660" stroke="#6e564c" stroke-width="0.7" stroke-opacity="0.55"/>
<ellipse cx="878.00" cy="161.80" rx="13.60" ry="4.40" fill="#efcaa2"/>
<line x1="863.60" y1="162.80" x2="892.40" y2="162.80" stroke="#c28c5e" stroke-width="1.1"/>
<path d="M960.20,161.80 L971.76,154.03 Q977.20,151.07 982.64,154.03 L994.20,161.80 L982.64,169.57 Q977.20,172.53 971.76,169.57 Z" fill="#d39660" stroke="#6e564c" stroke-width="0.7" stroke-opacity="0.55"/>
<ellipse cx="977.20" cy="161.80" rx="11.56" ry="4.07" fill="#efcaa2"/>
<line x1="964.96" y1="162.73" x2="989.44" y2="162.73" stroke="#c28c5e" stroke-width="1.1"/>
<path d="M1051.70,161.80 L1061.56,155.50 Q1066.20,153.10 1070.84,155.50 L1080.70,161.80 L1070.84,168.10 Q1066.20,170.50 1061.56,168.10 Z" fill="#d39660" stroke="#6e564c" stroke-width="0.7" stroke-opacity="0.55"/>
<ellipse cx="1066.20" cy="161.80" rx="9.86" ry="3.30" fill="#efcaa2"/>
<line x1="1055.76" y1="162.55" x2="1076.64" y2="162.55" stroke="#c28c5e" stroke-width="1.1"/>
<path d="M1131.95,162.20 L1140.62,156.53 Q1144.70,154.37 1148.78,156.53 L1157.45,162.20 L1148.78,167.87 Q1144.70,170.03 1140.62,167.87 Z" fill="#d39660" stroke="#6e564c" stroke-width="0.7" stroke-opacity="0.55"/>
<ellipse cx="1144.70" cy="162.20" rx="8.67" ry="2.97" fill="#efcaa2"/>
<line x1="1135.52" y1="162.88" x2="1153.88" y2="162.88" stroke="#c28c5e" stroke-width="1.1"/>
<path d="M1225.50,133.40 L1246.57,121.81 Q1250.00,117.39 1253.43,121.81 L1274.50,133.40 L1253.43,144.99 Q1250.00,149.41 1246.57,144.99 Z" fill="#d39660" stroke="#6e564c" stroke-width="0.7" stroke-opacity="0.55"/>
<ellipse cx="1250.00" cy="133.40" rx="16.66" ry="6.07" fill="#efcaa2"/>
<line x1="1232.36" y1="134.78" x2="1267.64" y2="134.78" stroke="#c28c5e" stroke-width="1.1"/>
<path d="M1225.50,190.70 L1246.57,179.11 Q1250.00,174.69 1253.43,179.11 L1274.50,190.70 L1253.43,202.29 Q1250.00,206.71 1246.57,202.29 Z" fill="#d39660" stroke="#6e564c" stroke-width="0.7" stroke-opacity="0.55"/>
<ellipse cx="1250.00" cy="190.70" rx="16.66" ry="6.07" fill="#efcaa2"/>
<line x1="1232.36" y1="192.08" x2="1267.64" y2="192.08" stroke="#c28c5e" stroke-width="1.1"/>
<path d="M1329.80,161.50 L1336.60,156.46 Q1339.80,154.54 1343.00,156.46 L1349.80,161.50 L1343.00,166.54 Q1339.80,168.46 1336.60,166.54 Z" fill="#d39660" stroke="#6e564c" stroke-width="0.7" stroke-opacity="0.55"/>
<ellipse cx="1339.80" cy="161.50" rx="6.80" ry="2.64" fill="#efcaa2"/>
<line x1="1332.60" y1="162.10" x2="1347.00" y2="162.10" stroke="#c28c5e" stroke-width="1.1"/>
<ellipse cx="1390.70" cy="161.50" rx="8.30" ry="6.10" fill="#5a4036" opacity="0.55"/>
<ellipse cx="1390.70" cy="161.50" rx="7.50" ry="5.20" fill="#c98f60"/>
<ellipse cx="1390.70" cy="161.00" rx="4.80" ry="2.20" fill="#ebbf92"/>
<ellipse cx="1435.70" cy="161.50" rx="7.80" ry="6.10" fill="#5a4036" opacity="0.55"/>
<ellipse cx="1435.70" cy="161.50" rx="7.00" ry="5.20" fill="#c98f60"/>
<ellipse cx="1435.70" cy="161.00" rx="4.48" ry="2.20" fill="#ebbf92"/>
<ellipse cx="1477.00" cy="161.50" rx="6.80" ry="5.60" fill="#5a4036" opacity="0.55"/>
<ellipse cx="1477.00" cy="161.50" rx="6.00" ry="4.70" fill="#c98f60"/>
<ellipse cx="1477.00" cy="161.00" rx="3.84" ry="2.00" fill="#ebbf92"/>
<ellipse cx="1531.00" cy="132.00" rx="8.80" ry="7.10" fill="#5a4036" opacity="0.55"/>
<ellipse cx="1531.00" cy="132.00" rx="8.00" ry="6.20" fill="#c98f60"/>
<ellipse cx="1531.00" cy="131.50" rx="5.12" ry="2.60" fill="#ebbf92"/>
<ellipse cx="1531.00" cy="190.00" rx="8.80" ry="7.10" fill="#5a4036" opacity="0.55"/>
<ellipse cx="1531.00" cy="190.00" rx="8.00" ry="6.20" fill="#c98f60"/>
<ellipse cx="1531.00" cy="189.50" rx="5.12" ry="2.60" fill="#ebbf92"/>
<rect x="731.00" y="114.55" width="844.60" height="1.70" fill="url(#strg)" />
<rect x="733.00" y="116.25" width="842.60" height="1.30" fill="#1c1d2b" opacity="0.5"/>
<rect x="728.00" y="131.88" width="847.60" height="1.85" fill="url(#strg)" />
<rect x="733.00" y="133.73" width="842.60" height="1.30" fill="#1c1d2b" opacity="0.5"/>
<rect x="731.00" y="150.30" width="844.60" height="2.00" fill="url(#strg)" />
<rect x="733.00" y="152.30" width="842.60" height="1.30" fill="#1c1d2b" opacity="0.5"/>
<rect x="728.00" y="169.23" width="847.60" height="2.15" fill="url(#strg)" />
<rect x="733.00" y="171.38" width="842.60" height="1.30" fill="#1c1d2b" opacity="0.5"/>
<rect x="731.00" y="188.15" width="844.60" height="2.30" fill="url(#strg)" />
<rect x="733.00" y="190.45" width="842.60" height="1.30" fill="#1c1d2b" opacity="0.5"/>
<rect x="728.00" y="206.58" width="847.60" height="2.45" fill="url(#strg)" />
<rect x="733.00" y="209.03" width="842.60" height="1.30" fill="#1c1d2b" opacity="0.5"/>
</g></g>
<rect x="721.85" y="106.45" width="6.3" height="18.60" fill="#fff" stroke="#ed1c24" stroke-width="1.9"/>
<rect x="721.85" y="141.95" width="6.3" height="18.60" fill="#fff" stroke="#ed1c24" stroke-width="1.9"/>
<rect x="721.85" y="180.45" width="6.3" height="18.10" fill="#fff" stroke="#ed1c24" stroke-width="1.9"/>
<rect x="795.85" y="122.45" width="6.3" height="17.60" fill="#fff" stroke="#ed1c24" stroke-width="1.9"/>
<rect x="795.85" y="160.95" width="6.3" height="18.10" fill="#fff" stroke="#ed1c24" stroke-width="1.9"/>
<rect x="795.85" y="201.45" width="6.3" height="18.60" fill="#fff" stroke="#ed1c24" stroke-width="1.9"/>
<rect x="850.15" y="105.95" width="6.3" height="114.10" fill="#fff" stroke="#ed1c24" stroke-width="1.9"/>
<rect x="951.35" y="105.95" width="6.3" height="114.10" fill="#fff" stroke="#ed1c24" stroke-width="1.9"/>
<rect x="997.85" y="106.45" width="6.3" height="18.60" fill="#fff" stroke="#ed1c24" stroke-width="1.9"/>
<rect x="997.85" y="141.95" width="6.3" height="18.60" fill="#fff" stroke="#ed1c24" stroke-width="1.9"/>
<rect x="997.85" y="180.45" width="6.3" height="18.10" fill="#fff" stroke="#ed1c24" stroke-width="1.9"/>
<rect x="1043.15" y="122.45" width="6.3" height="17.60" fill="#fff" stroke="#ed1c24" stroke-width="1.9"/>
<rect x="1043.15" y="160.95" width="6.3" height="18.10" fill="#fff" stroke="#ed1c24" stroke-width="1.9"/>
<rect x="1043.15" y="201.45" width="6.3" height="18.60" fill="#fff" stroke="#ed1c24" stroke-width="1.9"/>
<rect x="1083.65" y="106.45" width="6.3" height="18.60" fill="#fff" stroke="#ed1c24" stroke-width="1.9"/>
<rect x="1083.65" y="142.95" width="6.3" height="54.60" fill="#fff" stroke="#ed1c24" stroke-width="1.9"/>
<rect x="1124.25" y="122.95" width="6.3" height="18.60" fill="#fff" stroke="#ed1c24" stroke-width="1.9"/>
<rect x="1124.25" y="200.95" width="6.3" height="19.10" fill="#fff" stroke="#ed1c24" stroke-width="1.9"/>
<rect x="1162.25" y="105.95" width="6.3" height="114.10" fill="#fff" stroke="#ed1c24" stroke-width="1.9"/>
<rect x="1197.65" y="105.95" width="6.3" height="18.10" fill="#fff" stroke="#ed1c24" stroke-width="1.9"/>
<rect x="1197.65" y="179.95" width="6.3" height="17.60" fill="#fff" stroke="#ed1c24" stroke-width="1.9"/>
<rect x="1231.25" y="125.45" width="6.3" height="54.30" fill="#fff" stroke="#ed1c24" stroke-width="1.9"/>
<rect x="1231.25" y="200.95" width="6.3" height="19.10" fill="#fff" stroke="#ed1c24" stroke-width="1.9"/>
<rect x="1262.85" y="106.45" width="6.3" height="18.60" fill="#fff" stroke="#ed1c24" stroke-width="1.9"/>
<rect x="1262.85" y="141.95" width="6.3" height="18.60" fill="#fff" stroke="#ed1c24" stroke-width="1.9"/>
<rect x="1262.85" y="180.45" width="6.3" height="18.10" fill="#fff" stroke="#ed1c24" stroke-width="1.9"/>
<rect x="1294.65" y="122.45" width="6.3" height="17.60" fill="#fff" stroke="#ed1c24" stroke-width="1.9"/>
<rect x="1294.65" y="160.95" width="6.3" height="18.10" fill="#fff" stroke="#ed1c24" stroke-width="1.9"/>
<rect x="1294.65" y="201.45" width="6.3" height="18.60" fill="#fff" stroke="#ed1c24" stroke-width="1.9"/>
<rect x="1323.15" y="105.95" width="6.3" height="114.10" fill="#fff" stroke="#ed1c24" stroke-width="1.9"/>
<rect x="1376.05" y="105.95" width="6.3" height="114.10" fill="#fff" stroke="#ed1c24" stroke-width="1.9"/>
<rect x="1400.05" y="106.45" width="6.3" height="18.60" fill="#fff" stroke="#ed1c24" stroke-width="1.9"/>
<rect x="1400.05" y="141.95" width="6.3" height="18.60" fill="#fff" stroke="#ed1c24" stroke-width="1.9"/>
<rect x="1400.05" y="180.45" width="6.3" height="18.10" fill="#fff" stroke="#ed1c24" stroke-width="1.9"/>
<rect x="1422.05" y="122.45" width="6.3" height="17.60" fill="#fff" stroke="#ed1c24" stroke-width="1.9"/>
<rect x="1422.05" y="160.95" width="6.3" height="18.10" fill="#fff" stroke="#ed1c24" stroke-width="1.9"/>
<rect x="1422.05" y="201.45" width="6.3" height="18.60" fill="#fff" stroke="#ed1c24" stroke-width="1.9"/>
<rect x="1444.05" y="106.45" width="6.3" height="18.60" fill="#fff" stroke="#ed1c24" stroke-width="1.9"/>
<rect x="1444.05" y="142.95" width="6.3" height="54.60" fill="#fff" stroke="#ed1c24" stroke-width="1.9"/>
<rect x="1464.45" y="122.95" width="6.3" height="18.60" fill="#fff" stroke="#ed1c24" stroke-width="1.9"/>
<rect x="1464.45" y="200.95" width="6.3" height="19.10" fill="#fff" stroke="#ed1c24" stroke-width="1.9"/>
<rect x="1484.85" y="105.95" width="6.3" height="114.10" fill="#fff" stroke="#ed1c24" stroke-width="1.9"/>
<rect x="1501.55" y="105.95" width="6.3" height="18.10" fill="#fff" stroke="#ed1c24" stroke-width="1.9"/>
<rect x="1501.55" y="179.95" width="6.3" height="17.60" fill="#fff" stroke="#ed1c24" stroke-width="1.9"/>
<rect x="1519.85" y="125.45" width="6.3" height="54.30" fill="#fff" stroke="#ed1c24" stroke-width="1.9"/>
<rect x="1519.85" y="200.95" width="6.3" height="19.10" fill="#fff" stroke="#ed1c24" stroke-width="1.9"/>
<rect x="1537.05" y="106.45" width="6.3" height="18.60" fill="#fff" stroke="#ed1c24" stroke-width="1.9"/>
<rect x="1537.05" y="141.95" width="6.3" height="18.60" fill="#fff" stroke="#ed1c24" stroke-width="1.9"/>
<rect x="1537.05" y="180.45" width="6.3" height="18.10" fill="#fff" stroke="#ed1c24" stroke-width="1.9"/>
<rect x="1552.15" y="122.45" width="6.3" height="17.60" fill="#fff" stroke="#ed1c24" stroke-width="1.9"/>
<rect x="1552.15" y="160.95" width="6.3" height="18.10" fill="#fff" stroke="#ed1c24" stroke-width="1.9"/>
<rect x="1552.15" y="201.45" width="6.3" height="18.60" fill="#fff" stroke="#ed1c24" stroke-width="1.9"/>
<rect x="1566.85" y="105.95" width="6.3" height="114.10" fill="#fff" stroke="#ed1c24" stroke-width="1.9"/>
<clipPath id="hc2"><rect x="723.20" y="267.90" width="853.40" height="114.20"/></clipPath>
<g clip-path="url(#hc2)"><g filter="url(#soft2)">
<rect x="731.20" y="267.90" width="845.40" height="114.20" fill="url(#fbh2)" />
<rect x="734.20" y="267.50" width="842.40" height="6.90" fill="#444759" opacity="0.5"/>
<rect x="734.20" y="284.40" width="842.40" height="6.90" fill="#444759" opacity="0.5"/>
<rect x="734.20" y="303.00" width="842.40" height="6.90" fill="#444759" opacity="0.5"/>
<rect x="734.20" y="322.20" width="842.40" height="6.90" fill="#444759" opacity="0.5"/>
<rect x="734.20" y="341.20" width="842.40" height="6.90" fill="#444759" opacity="0.5"/>
<rect x="734.20" y="359.70" width="842.40" height="6.90" fill="#444759" opacity="0.5"/>
<rect x="734.20" y="377.10" width="842.40" height="5.00" fill="#484c62" opacity="0.4"/>
<rect x="730.00" y="267.90" width="3.80" height="114.20" fill="#e9dca4" />
<rect x="733.80" y="267.90" width="6.40" height="114.20" fill="#181924" opacity="0.75"/>
<rect x="740.20" y="267.90" width="13.00" height="114.20" fill="#181924" opacity="0.3"/>
<rect x="796.70" y="267.90" width="1.70" height="114.20" fill="#20223a" opacity="0.85"/>
<rect x="798.40" y="267.90" width="1.80" height="114.20" fill="#cfd0cb" />
<rect x="851.00" y="267.90" width="1.70" height="114.20" fill="#20223a" opacity="0.85"/>
<rect x="852.70" y="267.90" width="1.80" height="114.20" fill="#cfd0cb" />
<rect x="901.70" y="267.90" width="1.70" height="114.20" fill="#20223a" opacity="0.85"/>
<rect x="903.40" y="267.90" width="1.80" height="114.20" fill="#cfd0cb" />
<rect x="952.20" y="267.90" width="1.70" height="114.20" fill="#20223a" opacity="0.85"/>
<rect x="953.90" y="267.90" width="1.80" height="114.20" fill="#cfd0cb" />
<rect x="998.70" y="267.90" width="1.70" height="114.20" fill="#20223a" opacity="0.85"/>
<rect x="1000.40" y="267.90" width="1.80" height="114.20" fill="#cfd0cb" />
<rect x="1044.00" y="267.90" width="1.70" height="114.20" fill="#20223a" opacity="0.85"/>
<rect x="1045.70" y="267.90" width="1.80" height="114.20" fill="#cfd0cb" />
<rect x="1084.50" y="267.90" width="1.70" height="114.20" fill="#20223a" opacity="0.85"/>
<rect x="1086.20" y="267.90" width="1.80" height="114.20" fill="#cfd0cb" />
<rect x="1125.10" y="267.90" width="1.70" height="114.20" fill="#20223a" opacity="0.85"/>
<rect x="1126.80" y="267.90" width="1.80" height="114.20" fill="#cfd0cb" />
<rect x="1163.10" y="267.90" width="1.70" height="114.20" fill="#20223a" opacity="0.85"/>
<rect x="1164.80" y="267.90" width="1.80" height="114.20" fill="#cfd0cb" />
<rect x="1198.50" y="267.90" width="1.70" height="114.20" fill="#20223a" opacity="0.85"/>
<rect x="1200.20" y="267.90" width="1.80" height="114.20" fill="#cfd0cb" />
<rect x="1232.10" y="267.90" width="1.70" height="114.20" fill="#20223a" opacity="0.85"/>
<rect x="1233.80" y="267.90" width="1.80" height="114.20" fill="#cfd0cb" />
<rect x="1263.70" y="267.90" width="1.70" height="114.20" fill="#20223a" opacity="0.85"/>
<rect x="1265.40" y="267.90" width="1.80" height="114.20" fill="#cfd0cb" />
<rect x="1295.50" y="267.90" width="1.70" height="114.20" fill="#20223a" opacity="0.85"/>
<rect x="1297.20" y="267.90" width="1.80" height="114.20" fill="#cfd0cb" />
<rect x="1324.00" y="267.90" width="1.70" height="114.20" fill="#20223a" opacity="0.85"/>
<rect x="1325.70" y="267.90" width="1.80" height="114.20" fill="#cfd0cb" />
<rect x="1351.40" y="267.90" width="1.70" height="114.20" fill="#20223a" opacity="0.85"/>
<rect x="1353.10" y="267.90" width="1.80" height="114.20" fill="#cfd0cb" />
<rect x="1376.90" y="267.90" width="1.70" height="114.20" fill="#20223a" opacity="0.85"/>
<rect x="1378.60" y="267.90" width="1.80" height="114.20" fill="#cfd0cb" />
<rect x="1400.90" y="267.90" width="1.70" height="114.20" fill="#20223a" opacity="0.85"/>
<rect x="1402.60" y="267.90" width="1.80" height="114.20" fill="#cfd0cb" />
<rect x="1422.90" y="267.90" width="1.70" height="114.20" fill="#20223a" opacity="0.85"/>
<rect x="1424.60" y="267.90" width="1.80" height="114.20" fill="#cfd0cb" />
<rect x="1444.90" y="267.90" width="1.70" height="114.20" fill="#20223a" opacity="0.85"/>
<rect x="1446.60" y="267.90" width="1.80" height="114.20" fill="#cfd0cb" />
<rect x="1465.30" y="267.90" width="1.70" height="114.20" fill="#20223a" opacity="0.85"/>
<rect x="1467.00" y="267.90" width="1.80" height="114.20" fill="#cfd0cb" />
<rect x="1485.70" y="267.90" width="1.70" height="114.20" fill="#20223a" opacity="0.85"/>
<rect x="1487.40" y="267.90" width="1.80" height="114.20" fill="#cfd0cb" />
<rect x="1502.40" y="267.90" width="1.70" height="114.20" fill="#20223a" opacity="0.85"/>
<rect x="1504.10" y="267.90" width="1.80" height="114.20" fill="#cfd0cb" />
<rect x="1520.70" y="267.90" width="1.70" height="114.20" fill="#20223a" opacity="0.85"/>
<rect x="1522.40" y="267.90" width="1.80" height="114.20" fill="#cfd0cb" />
<rect x="1537.90" y="267.90" width="1.70" height="114.20" fill="#20223a" opacity="0.85"/>
<rect x="1539.60" y="267.90" width="1.80" height="114.20" fill="#cfd0cb" />
<rect x="1553.00" y="267.90" width="1.70" height="114.20" fill="#20223a" opacity="0.85"/>
<rect x="1554.70" y="267.90" width="1.80" height="114.20" fill="#cfd0cb" />
<rect x="1567.70" y="267.90" width="1.70" height="114.20" fill="#20223a" opacity="0.85"/>
<rect x="1569.40" y="267.90" width="1.80" height="114.20" fill="#cfd0cb" />
<path d="M858.30,322.20 L871.90,313.80 Q878.30,310.60 884.70,313.80 L898.30,322.20 L884.70,330.60 Q878.30,333.80 871.90,330.60 Z" fill="#d39660" stroke="#6e564c" stroke-width="0.7" stroke-opacity="0.55"/>
<ellipse cx="878.30" cy="322.20" rx="13.60" ry="4.40" fill="#efcaa2"/>
<line x1="863.90" y1="323.20" x2="892.70" y2="323.20" stroke="#c28c5e" stroke-width="1.1"/>
<path d="M960.50,322.20 L972.06,314.43 Q977.50,311.47 982.94,314.43 L994.50,322.20 L982.94,329.97 Q977.50,332.93 972.06,329.97 Z" fill="#d39660" stroke="#6e564c" stroke-width="0.7" stroke-opacity="0.55"/>
<ellipse cx="977.50" cy="322.20" rx="11.56" ry="4.07" fill="#efcaa2"/>
<line x1="965.26" y1="323.12" x2="989.74" y2="323.12" stroke="#c28c5e" stroke-width="1.1"/>
<path d="M1052.00,322.20 L1061.86,315.90 Q1066.50,313.50 1071.14,315.90 L1081.00,322.20 L1071.14,328.50 Q1066.50,330.90 1061.86,328.50 Z" fill="#d39660" stroke="#6e564c" stroke-width="0.7" stroke-opacity="0.55"/>
<ellipse cx="1066.50" cy="322.20" rx="9.86" ry="3.30" fill="#efcaa2"/>
<line x1="1056.06" y1="322.95" x2="1076.94" y2="322.95" stroke="#c28c5e" stroke-width="1.1"/>
<path d="M1132.25,322.60 L1140.92,316.93 Q1145.00,314.77 1149.08,316.93 L1157.75,322.60 L1149.08,328.27 Q1145.00,330.43 1140.92,328.27 Z" fill="#d39660" stroke="#6e564c" stroke-width="0.7" stroke-opacity="0.55"/>
<ellipse cx="1145.00" cy="322.60" rx="8.67" ry="2.97" fill="#efcaa2"/>
<line x1="1135.82" y1="323.27" x2="1154.18" y2="323.27" stroke="#c28c5e" stroke-width="1.1"/>
<path d="M1225.80,293.80 L1246.87,282.21 Q1250.30,277.79 1253.73,282.21 L1274.80,293.80 L1253.73,305.39 Q1250.30,309.81 1246.87,305.39 Z" fill="#d39660" stroke="#6e564c" stroke-width="0.7" stroke-opacity="0.55"/>
<ellipse cx="1250.30" cy="293.80" rx="16.66" ry="6.07" fill="#efcaa2"/>
<line x1="1232.66" y1="295.18" x2="1267.94" y2="295.18" stroke="#c28c5e" stroke-width="1.1"/>
<path d="M1225.80,351.10 L1246.87,339.51 Q1250.30,335.09 1253.73,339.51 L1274.80,351.10 L1253.73,362.69 Q1250.30,367.11 1246.87,362.69 Z" fill="#d39660" stroke="#6e564c" stroke-width="0.7" stroke-opacity="0.55"/>
<ellipse cx="1250.30" cy="351.10" rx="16.66" ry="6.07" fill="#efcaa2"/>
<line x1="1232.66" y1="352.48" x2="1267.94" y2="352.48" stroke="#c28c5e" stroke-width="1.1"/>
<path d="M1330.10,321.90 L1336.90,316.86 Q1340.10,314.94 1343.30,316.86 L1350.10,321.90 L1343.30,326.94 Q1340.10,328.86 1336.90,326.94 Z" fill="#d39660" stroke="#6e564c" stroke-width="0.7" stroke-opacity="0.55"/>
<ellipse cx="1340.10" cy="321.90" rx="6.80" ry="2.64" fill="#efcaa2"/>
<line x1="1332.90" y1="322.50" x2="1347.30" y2="322.50" stroke="#c28c5e" stroke-width="1.1"/>
<ellipse cx="1391.00" cy="321.90" rx="8.30" ry="6.10" fill="#5a4036" opacity="0.55"/>
<ellipse cx="1391.00" cy="321.90" rx="7.50" ry="5.20" fill="#c98f60"/>
<ellipse cx="1391.00" cy="321.40" rx="4.80" ry="2.20" fill="#ebbf92"/>
<ellipse cx="1436.00" cy="321.90" rx="7.80" ry="6.10" fill="#5a4036" opacity="0.55"/>
<ellipse cx="1436.00" cy="321.90" rx="7.00" ry="5.20" fill="#c98f60"/>
<ellipse cx="1436.00" cy="321.40" rx="4.48" ry="2.20" fill="#ebbf92"/>
<ellipse cx="1477.30" cy="321.90" rx="6.80" ry="5.60" fill="#5a4036" opacity="0.55"/>
<ellipse cx="1477.30" cy="321.90" rx="6.00" ry="4.70" fill="#c98f60"/>
<ellipse cx="1477.30" cy="321.40" rx="3.84" ry="2.00" fill="#ebbf92"/>
<ellipse cx="1531.30" cy="292.40" rx="8.80" ry="7.10" fill="#5a4036" opacity="0.55"/>
<ellipse cx="1531.30" cy="292.40" rx="8.00" ry="6.20" fill="#c98f60"/>
<ellipse cx="1531.30" cy="291.90" rx="5.12" ry="2.60" fill="#ebbf92"/>
<ellipse cx="1531.30" cy="350.40" rx="8.80" ry="7.10" fill="#5a4036" opacity="0.55"/>
<ellipse cx="1531.30" cy="350.40" rx="8.00" ry="6.20" fill="#c98f60"/>
<ellipse cx="1531.30" cy="349.90" rx="5.12" ry="2.60" fill="#ebbf92"/>
<rect x="731.20" y="275.15" width="845.40" height="1.70" fill="url(#strg)" />
<rect x="733.20" y="276.85" width="843.40" height="1.30" fill="#1c1d2b" opacity="0.5"/>
<rect x="728.20" y="291.97" width="848.40" height="1.85" fill="url(#strg)" />
<rect x="733.20" y="293.82" width="843.40" height="1.30" fill="#1c1d2b" opacity="0.5"/>
<rect x="731.20" y="310.50" width="845.40" height="2.00" fill="url(#strg)" />
<rect x="733.20" y="312.50" width="843.40" height="1.30" fill="#1c1d2b" opacity="0.5"/>
<rect x="728.20" y="329.62" width="848.40" height="2.15" fill="url(#strg)" />
<rect x="733.20" y="331.77" width="843.40" height="1.30" fill="#1c1d2b" opacity="0.5"/>
<rect x="731.20" y="348.55" width="845.40" height="2.30" fill="url(#strg)" />
<rect x="733.20" y="350.85" width="843.40" height="1.30" fill="#1c1d2b" opacity="0.5"/>
<rect x="728.20" y="366.97" width="848.40" height="2.45" fill="url(#strg)" />
<rect x="733.20" y="369.43" width="843.40" height="1.30" fill="#1c1d2b" opacity="0.5"/>
</g></g>
<rect x="721.85" y="284.35" width="6.3" height="54.10" fill="#fff" stroke="#ed1c24" stroke-width="1.9"/>
<rect x="721.85" y="361.35" width="6.3" height="19.50" fill="#fff" stroke="#ed1c24" stroke-width="1.9"/>
<rect x="796.15" y="269.35" width="6.3" height="14.10" fill="#fff" stroke="#ed1c24" stroke-width="1.9"/>
<rect x="796.15" y="302.15" width="6.3" height="17.80" fill="#fff" stroke="#ed1c24" stroke-width="1.9"/>
<rect x="796.15" y="340.35" width="6.3" height="17.90" fill="#fff" stroke="#ed1c24" stroke-width="1.9"/>
<rect x="850.45" y="282.85" width="6.3" height="18.30" fill="#fff" stroke="#ed1c24" stroke-width="1.9"/>
<rect x="850.45" y="322.05" width="6.3" height="17.40" fill="#fff" stroke="#ed1c24" stroke-width="1.9"/>
<rect x="850.45" y="362.35" width="6.3" height="18.50" fill="#fff" stroke="#ed1c24" stroke-width="1.9"/>
<rect x="901.15" y="268.85" width="6.3" height="112.10" fill="#fff" stroke="#ed1c24" stroke-width="1.9"/>
<rect x="998.15" y="268.85" width="6.3" height="112.10" fill="#fff" stroke="#ed1c24" stroke-width="1.9"/>
<rect x="1043.45" y="269.35" width="6.3" height="14.10" fill="#fff" stroke="#ed1c24" stroke-width="1.9"/>
<rect x="1043.45" y="302.15" width="6.3" height="17.80" fill="#fff" stroke="#ed1c24" stroke-width="1.9"/>
<rect x="1043.45" y="340.35" width="6.3" height="17.90" fill="#fff" stroke="#ed1c24" stroke-width="1.9"/>
<rect x="1083.95" y="282.85" width="6.3" height="18.30" fill="#fff" stroke="#ed1c24" stroke-width="1.9"/>
<rect x="1083.95" y="322.05" width="6.3" height="17.40" fill="#fff" stroke="#ed1c24" stroke-width="1.9"/>
<rect x="1083.95" y="362.35" width="6.3" height="18.50" fill="#fff" stroke="#ed1c24" stroke-width="1.9"/>
<rect x="1124.55" y="268.85" width="6.3" height="15.60" fill="#fff" stroke="#ed1c24" stroke-width="1.9"/>
<rect x="1124.55" y="301.35" width="6.3" height="57.60" fill="#fff" stroke="#ed1c24" stroke-width="1.9"/>
<rect x="1162.55" y="283.05" width="6.3" height="19.10" fill="#fff" stroke="#ed1c24" stroke-width="1.9"/>
<rect x="1162.55" y="362.65" width="6.3" height="18.20" fill="#fff" stroke="#ed1c24" stroke-width="1.9"/>
<rect x="1197.95" y="268.85" width="6.3" height="112.10" fill="#fff" stroke="#ed1c24" stroke-width="1.9"/>
<rect x="1231.55" y="269.05" width="6.3" height="13.70" fill="#fff" stroke="#ed1c24" stroke-width="1.9"/>
<rect x="1231.55" y="339.55" width="6.3" height="17.20" fill="#fff" stroke="#ed1c24" stroke-width="1.9"/>
<rect x="1263.15" y="284.35" width="6.3" height="54.10" fill="#fff" stroke="#ed1c24" stroke-width="1.9"/>
<rect x="1263.15" y="361.35" width="6.3" height="19.50" fill="#fff" stroke="#ed1c24" stroke-width="1.9"/>
<rect x="1294.95" y="269.35" width="6.3" height="14.10" fill="#fff" stroke="#ed1c24" stroke-width="1.9"/>
<rect x="1294.95" y="302.15" width="6.3" height="17.80" fill="#fff" stroke="#ed1c24" stroke-width="1.9"/>
<rect x="1294.95" y="340.35" width="6.3" height="17.90" fill="#fff" stroke="#ed1c24" stroke-width="1.9"/>
<rect x="1323.45" y="282.85" width="6.3" height="18.30" fill="#fff" stroke="#ed1c24" stroke-width="1.9"/>
<rect x="1323.45" y="322.05" width="6.3" height="17.40" fill="#fff" stroke="#ed1c24" stroke-width="1.9"/>
<rect x="1323.45" y="362.35" width="6.3" height="18.50" fill="#fff" stroke="#ed1c24" stroke-width="1.9"/>
<rect x="1350.85" y="268.85" width="6.3" height="112.10" fill="#fff" stroke="#ed1c24" stroke-width="1.9"/>
<rect x="1400.35" y="268.85" width="6.3" height="112.10" fill="#fff" stroke="#ed1c24" stroke-width="1.9"/>
<rect x="1422.35" y="269.35" width="6.3" height="14.10" fill="#fff" stroke="#ed1c24" stroke-width="1.9"/>
<rect x="1422.35" y="302.15" width="6.3" height="17.80" fill="#fff" stroke="#ed1c24" stroke-width="1.9"/>
<rect x="1422.35" y="340.35" width="6.3" height="17.90" fill="#fff" stroke="#ed1c24" stroke-width="1.9"/>
<rect x="1444.35" y="282.85" width="6.3" height="18.30" fill="#fff" stroke="#ed1c24" stroke-width="1.9"/>
<rect x="1444.35" y="322.05" width="6.3" height="17.40" fill="#fff" stroke="#ed1c24" stroke-width="1.9"/>
<rect x="1444.35" y="362.35" width="6.3" height="18.50" fill="#fff" stroke="#ed1c24" stroke-width="1.9"/>
<rect x="1464.75" y="268.85" width="6.3" height="15.60" fill="#fff" stroke="#ed1c24" stroke-width="1.9"/>
<rect x="1464.75" y="301.35" width="6.3" height="57.60" fill="#fff" stroke="#ed1c24" stroke-width="1.9"/>
<rect x="1485.15" y="283.05" width="6.3" height="19.10" fill="#fff" stroke="#ed1c24" stroke-width="1.9"/>
<rect x="1485.15" y="362.65" width="6.3" height="18.20" fill="#fff" stroke="#ed1c24" stroke-width="1.9"/>
<rect x="1501.85" y="268.85" width="6.3" height="112.10" fill="#fff" stroke="#ed1c24" stroke-width="1.9"/>
<rect x="1520.15" y="269.05" width="6.3" height="13.70" fill="#fff" stroke="#ed1c24" stroke-width="1.9"/>
<rect x="1520.15" y="339.55" width="6.3" height="17.20" fill="#fff" stroke="#ed1c24" stroke-width="1.9"/>
<rect x="1537.35" y="284.35" width="6.3" height="54.10" fill="#fff" stroke="#ed1c24" stroke-width="1.9"/>
<rect x="1537.35" y="361.35" width="6.3" height="19.50" fill="#fff" stroke="#ed1c24" stroke-width="1.9"/>
<rect x="1552.45" y="269.35" width="6.3" height="14.10" fill="#fff" stroke="#ed1c24" stroke-width="1.9"/>
<rect x="1552.45" y="302.15" width="6.3" height="17.80" fill="#fff" stroke="#ed1c24" stroke-width="1.9"/>
<rect x="1552.45" y="340.35" width="6.3" height="17.90" fill="#fff" stroke="#ed1c24" stroke-width="1.9"/>
<rect x="1567.15" y="282.85" width="6.3" height="18.30" fill="#fff" stroke="#ed1c24" stroke-width="1.9"/>
<rect x="1567.15" y="322.05" width="6.3" height="17.40" fill="#fff" stroke="#ed1c24" stroke-width="1.9"/>
<rect x="1567.15" y="362.35" width="6.3" height="18.50" fill="#fff" stroke="#ed1c24" stroke-width="1.9"/>
<clipPath id="hc3"><rect x="728.00" y="438.90" width="850.80" height="114.40"/></clipPath>
<g clip-path="url(#hc3)"><g filter="url(#soft2)">
<rect x="736.00" y="438.90" width="842.80" height="114.40" fill="url(#fbh3)" />
<rect x="739.00" y="440.20" width="839.80" height="6.90" fill="#444759" opacity="0.5"/>
<rect x="739.00" y="458.90" width="839.80" height="6.90" fill="#444759" opacity="0.5"/>
<rect x="739.00" y="477.10" width="839.80" height="6.90" fill="#444759" opacity="0.5"/>
<rect x="739.00" y="495.80" width="839.80" height="6.90" fill="#444759" opacity="0.5"/>
<rect x="739.00" y="514.50" width="839.80" height="6.90" fill="#444759" opacity="0.5"/>
<rect x="739.00" y="533.20" width="839.80" height="6.90" fill="#444759" opacity="0.5"/>
<rect x="739.00" y="548.30" width="839.80" height="5.00" fill="#484c62" opacity="0.4"/>
<rect x="734.80" y="438.90" width="3.80" height="114.40" fill="#e9dca4" />
<rect x="738.60" y="438.90" width="6.40" height="114.40" fill="#181924" opacity="0.75"/>
<rect x="745.00" y="438.90" width="13.00" height="114.40" fill="#181924" opacity="0.3"/>
<rect x="799.20" y="438.90" width="1.70" height="114.40" fill="#20223a" opacity="0.85"/>
<rect x="800.90" y="438.90" width="1.80" height="114.40" fill="#cfd0cb" />
<rect x="853.50" y="438.90" width="1.70" height="114.40" fill="#20223a" opacity="0.85"/>
<rect x="855.20" y="438.90" width="1.80" height="114.40" fill="#cfd0cb" />
<rect x="904.20" y="438.90" width="1.70" height="114.40" fill="#20223a" opacity="0.85"/>
<rect x="905.90" y="438.90" width="1.80" height="114.40" fill="#cfd0cb" />
<rect x="954.70" y="438.90" width="1.70" height="114.40" fill="#20223a" opacity="0.85"/>
<rect x="956.40" y="438.90" width="1.80" height="114.40" fill="#cfd0cb" />
<rect x="1001.20" y="438.90" width="1.70" height="114.40" fill="#20223a" opacity="0.85"/>
<rect x="1002.90" y="438.90" width="1.80" height="114.40" fill="#cfd0cb" />
<rect x="1046.50" y="438.90" width="1.70" height="114.40" fill="#20223a" opacity="0.85"/>
<rect x="1048.20" y="438.90" width="1.80" height="114.40" fill="#cfd0cb" />
<rect x="1087.00" y="438.90" width="1.70" height="114.40" fill="#20223a" opacity="0.85"/>
<rect x="1088.70" y="438.90" width="1.80" height="114.40" fill="#cfd0cb" />
<rect x="1127.60" y="438.90" width="1.70" height="114.40" fill="#20223a" opacity="0.85"/>
<rect x="1129.30" y="438.90" width="1.80" height="114.40" fill="#cfd0cb" />
<rect x="1165.60" y="438.90" width="1.70" height="114.40" fill="#20223a" opacity="0.85"/>
<rect x="1167.30" y="438.90" width="1.80" height="114.40" fill="#cfd0cb" />
<rect x="1201.00" y="438.90" width="1.70" height="114.40" fill="#20223a" opacity="0.85"/>
<rect x="1202.70" y="438.90" width="1.80" height="114.40" fill="#cfd0cb" />
<rect x="1234.60" y="438.90" width="1.70" height="114.40" fill="#20223a" opacity="0.85"/>
<rect x="1236.30" y="438.90" width="1.80" height="114.40" fill="#cfd0cb" />
<rect x="1266.20" y="438.90" width="1.70" height="114.40" fill="#20223a" opacity="0.85"/>
<rect x="1267.90" y="438.90" width="1.80" height="114.40" fill="#cfd0cb" />
<rect x="1298.00" y="438.90" width="1.70" height="114.40" fill="#20223a" opacity="0.85"/>
<rect x="1299.70" y="438.90" width="1.80" height="114.40" fill="#cfd0cb" />
<rect x="1326.50" y="438.90" width="1.70" height="114.40" fill="#20223a" opacity="0.85"/>
<rect x="1328.20" y="438.90" width="1.80" height="114.40" fill="#cfd0cb" />
<rect x="1353.90" y="438.90" width="1.70" height="114.40" fill="#20223a" opacity="0.85"/>
<rect x="1355.60" y="438.90" width="1.80" height="114.40" fill="#cfd0cb" />
<rect x="1379.40" y="438.90" width="1.70" height="114.40" fill="#20223a" opacity="0.85"/>
<rect x="1381.10" y="438.90" width="1.80" height="114.40" fill="#cfd0cb" />
<rect x="1403.40" y="438.90" width="1.70" height="114.40" fill="#20223a" opacity="0.85"/>
<rect x="1405.10" y="438.90" width="1.80" height="114.40" fill="#cfd0cb" />
<rect x="1425.40" y="438.90" width="1.70" height="114.40" fill="#20223a" opacity="0.85"/>
<rect x="1427.10" y="438.90" width="1.80" height="114.40" fill="#cfd0cb" />
<rect x="1447.40" y="438.90" width="1.70" height="114.40" fill="#20223a" opacity="0.85"/>
<rect x="1449.10" y="438.90" width="1.80" height="114.40" fill="#cfd0cb" />
<rect x="1467.80" y="438.90" width="1.70" height="114.40" fill="#20223a" opacity="0.85"/>
<rect x="1469.50" y="438.90" width="1.80" height="114.40" fill="#cfd0cb" />
<rect x="1488.20" y="438.90" width="1.70" height="114.40" fill="#20223a" opacity="0.85"/>
<rect x="1489.90" y="438.90" width="1.80" height="114.40" fill="#cfd0cb" />
<rect x="1504.90" y="438.90" width="1.70" height="114.40" fill="#20223a" opacity="0.85"/>
<rect x="1506.60" y="438.90" width="1.80" height="114.40" fill="#cfd0cb" />
<rect x="1523.20" y="438.90" width="1.70" height="114.40" fill="#20223a" opacity="0.85"/>
<rect x="1524.90" y="438.90" width="1.80" height="114.40" fill="#cfd0cb" />
<rect x="1540.40" y="438.90" width="1.70" height="114.40" fill="#20223a" opacity="0.85"/>
<rect x="1542.10" y="438.90" width="1.80" height="114.40" fill="#cfd0cb" />
<rect x="1555.50" y="438.90" width="1.70" height="114.40" fill="#20223a" opacity="0.85"/>
<rect x="1557.20" y="438.90" width="1.80" height="114.40" fill="#cfd0cb" />
<rect x="1570.20" y="438.90" width="1.70" height="114.40" fill="#20223a" opacity="0.85"/>
<rect x="1571.90" y="438.90" width="1.80" height="114.40" fill="#cfd0cb" />
<path d="M860.80,495.40 L874.40,487.00 Q880.80,483.80 887.20,487.00 L900.80,495.40 L887.20,503.80 Q880.80,507.00 874.40,503.80 Z" fill="#d39660" stroke="#6e564c" stroke-width="0.7" stroke-opacity="0.55"/>
<ellipse cx="880.80" cy="495.40" rx="13.60" ry="4.40" fill="#efcaa2"/>
<line x1="866.40" y1="496.40" x2="895.20" y2="496.40" stroke="#c28c5e" stroke-width="1.1"/>
<path d="M963.00,495.40 L974.56,487.63 Q980.00,484.67 985.44,487.63 L997.00,495.40 L985.44,503.17 Q980.00,506.13 974.56,503.17 Z" fill="#d39660" stroke="#6e564c" stroke-width="0.7" stroke-opacity="0.55"/>
<ellipse cx="980.00" cy="495.40" rx="11.56" ry="4.07" fill="#efcaa2"/>
<line x1="967.76" y1="496.32" x2="992.24" y2="496.32" stroke="#c28c5e" stroke-width="1.1"/>
<path d="M1054.50,495.40 L1064.36,489.10 Q1069.00,486.70 1073.64,489.10 L1083.50,495.40 L1073.64,501.70 Q1069.00,504.10 1064.36,501.70 Z" fill="#d39660" stroke="#6e564c" stroke-width="0.7" stroke-opacity="0.55"/>
<ellipse cx="1069.00" cy="495.40" rx="9.86" ry="3.30" fill="#efcaa2"/>
<line x1="1058.56" y1="496.15" x2="1079.44" y2="496.15" stroke="#c28c5e" stroke-width="1.1"/>
<path d="M1134.75,495.80 L1143.42,490.13 Q1147.50,487.97 1151.58,490.13 L1160.25,495.80 L1151.58,501.47 Q1147.50,503.63 1143.42,501.47 Z" fill="#d39660" stroke="#6e564c" stroke-width="0.7" stroke-opacity="0.55"/>
<ellipse cx="1147.50" cy="495.80" rx="8.67" ry="2.97" fill="#efcaa2"/>
<line x1="1138.32" y1="496.47" x2="1156.68" y2="496.47" stroke="#c28c5e" stroke-width="1.1"/>
<path d="M1228.30,467.00 L1249.37,455.41 Q1252.80,450.99 1256.23,455.41 L1277.30,467.00 L1256.23,478.59 Q1252.80,483.01 1249.37,478.59 Z" fill="#d39660" stroke="#6e564c" stroke-width="0.7" stroke-opacity="0.55"/>
<ellipse cx="1252.80" cy="467.00" rx="16.66" ry="6.07" fill="#efcaa2"/>
<line x1="1235.16" y1="468.38" x2="1270.44" y2="468.38" stroke="#c28c5e" stroke-width="1.1"/>
<path d="M1228.30,524.30 L1249.37,512.71 Q1252.80,508.29 1256.23,512.71 L1277.30,524.30 L1256.23,535.89 Q1252.80,540.31 1249.37,535.89 Z" fill="#d39660" stroke="#6e564c" stroke-width="0.7" stroke-opacity="0.55"/>
<ellipse cx="1252.80" cy="524.30" rx="16.66" ry="6.07" fill="#efcaa2"/>
<line x1="1235.16" y1="525.68" x2="1270.44" y2="525.68" stroke="#c28c5e" stroke-width="1.1"/>
<path d="M1332.60,495.10 L1339.40,490.06 Q1342.60,488.14 1345.80,490.06 L1352.60,495.10 L1345.80,500.14 Q1342.60,502.06 1339.40,500.14 Z" fill="#d39660" stroke="#6e564c" stroke-width="0.7" stroke-opacity="0.55"/>
<ellipse cx="1342.60" cy="495.10" rx="6.80" ry="2.64" fill="#efcaa2"/>
<line x1="1335.40" y1="495.70" x2="1349.80" y2="495.70" stroke="#c28c5e" stroke-width="1.1"/>
<ellipse cx="1393.50" cy="495.10" rx="8.30" ry="6.10" fill="#5a4036" opacity="0.55"/>
<ellipse cx="1393.50" cy="495.10" rx="7.50" ry="5.20" fill="#c98f60"/>
<ellipse cx="1393.50" cy="494.60" rx="4.80" ry="2.20" fill="#ebbf92"/>
<ellipse cx="1438.50" cy="495.10" rx="7.80" ry="6.10" fill="#5a4036" opacity="0.55"/>
<ellipse cx="1438.50" cy="495.10" rx="7.00" ry="5.20" fill="#c98f60"/>
<ellipse cx="1438.50" cy="494.60" rx="4.48" ry="2.20" fill="#ebbf92"/>
<ellipse cx="1479.80" cy="495.10" rx="6.80" ry="5.60" fill="#5a4036" opacity="0.55"/>
<ellipse cx="1479.80" cy="495.10" rx="6.00" ry="4.70" fill="#c98f60"/>
<ellipse cx="1479.80" cy="494.60" rx="3.84" ry="2.00" fill="#ebbf92"/>
<ellipse cx="1533.80" cy="465.60" rx="8.80" ry="7.10" fill="#5a4036" opacity="0.55"/>
<ellipse cx="1533.80" cy="465.60" rx="8.00" ry="6.20" fill="#c98f60"/>
<ellipse cx="1533.80" cy="465.10" rx="5.12" ry="2.60" fill="#ebbf92"/>
<ellipse cx="1533.80" cy="523.60" rx="8.80" ry="7.10" fill="#5a4036" opacity="0.55"/>
<ellipse cx="1533.80" cy="523.60" rx="8.00" ry="6.20" fill="#c98f60"/>
<ellipse cx="1533.80" cy="523.10" rx="5.12" ry="2.60" fill="#ebbf92"/>
<rect x="736.00" y="447.85" width="842.80" height="1.70" fill="url(#strg)" />
<rect x="738.00" y="449.55" width="840.80" height="1.30" fill="#1c1d2b" opacity="0.5"/>
<rect x="733.00" y="466.47" width="845.80" height="1.85" fill="url(#strg)" />
<rect x="738.00" y="468.32" width="840.80" height="1.30" fill="#1c1d2b" opacity="0.5"/>
<rect x="736.00" y="484.60" width="842.80" height="2.00" fill="url(#strg)" />
<rect x="738.00" y="486.60" width="840.80" height="1.30" fill="#1c1d2b" opacity="0.5"/>
<rect x="733.00" y="503.22" width="845.80" height="2.15" fill="url(#strg)" />
<rect x="738.00" y="505.37" width="840.80" height="1.30" fill="#1c1d2b" opacity="0.5"/>
<rect x="736.00" y="521.85" width="842.80" height="2.30" fill="url(#strg)" />
<rect x="738.00" y="524.15" width="840.80" height="1.30" fill="#1c1d2b" opacity="0.5"/>
<rect x="733.00" y="540.47" width="845.80" height="2.45" fill="url(#strg)" />
<rect x="738.00" y="542.92" width="840.80" height="1.30" fill="#1c1d2b" opacity="0.5"/>
</g></g>
<rect x="723.65" y="439.35" width="6.3" height="17.90" fill="#fff" stroke="#ed1c24" stroke-width="1.9"/>
<rect x="723.65" y="512.75" width="6.3" height="18.30" fill="#fff" stroke="#ed1c24" stroke-width="1.9"/>
<rect x="798.65" y="455.35" width="6.3" height="57.10" fill="#fff" stroke="#ed1c24" stroke-width="1.9"/>
<rect x="798.65" y="534.15" width="6.3" height="18.10" fill="#fff" stroke="#ed1c24" stroke-width="1.9"/>
<rect x="852.95" y="440.85" width="6.3" height="15.40" fill="#fff" stroke="#ed1c24" stroke-width="1.9"/>
<rect x="852.95" y="475.35" width="6.3" height="17.60" fill="#fff" stroke="#ed1c24" stroke-width="1.9"/>
<rect x="852.95" y="514.85" width="6.3" height="17.60" fill="#fff" stroke="#ed1c24" stroke-width="1.9"/>
<rect x="903.65" y="456.85" width="6.3" height="18.10" fill="#fff" stroke="#ed1c24" stroke-width="1.9"/>
<rect x="903.65" y="495.85" width="6.3" height="17.60" fill="#fff" stroke="#ed1c24" stroke-width="1.9"/>
<rect x="903.65" y="534.15" width="6.3" height="18.10" fill="#fff" stroke="#ed1c24" stroke-width="1.9"/>
<rect x="954.15" y="439.85" width="6.3" height="112.50" fill="#fff" stroke="#ed1c24" stroke-width="1.9"/>
<rect x="1045.95" y="439.85" width="6.3" height="112.50" fill="#fff" stroke="#ed1c24" stroke-width="1.9"/>
<rect x="1086.45" y="440.85" width="6.3" height="15.40" fill="#fff" stroke="#ed1c24" stroke-width="1.9"/>
<rect x="1086.45" y="475.35" width="6.3" height="17.60" fill="#fff" stroke="#ed1c24" stroke-width="1.9"/>
<rect x="1086.45" y="514.85" width="6.3" height="17.60" fill="#fff" stroke="#ed1c24" stroke-width="1.9"/>
<rect x="1127.05" y="456.85" width="6.3" height="18.10" fill="#fff" stroke="#ed1c24" stroke-width="1.9"/>
<rect x="1127.05" y="495.85" width="6.3" height="17.60" fill="#fff" stroke="#ed1c24" stroke-width="1.9"/>
<rect x="1127.05" y="534.15" width="6.3" height="18.10" fill="#fff" stroke="#ed1c24" stroke-width="1.9"/>
<rect x="1165.05" y="440.65" width="6.3" height="15.10" fill="#fff" stroke="#ed1c24" stroke-width="1.9"/>
<rect x="1165.05" y="476.85" width="6.3" height="54.60" fill="#fff" stroke="#ed1c24" stroke-width="1.9"/>
<rect x="1200.45" y="459.85" width="6.3" height="15.10" fill="#fff" stroke="#ed1c24" stroke-width="1.9"/>
<rect x="1200.45" y="534.15" width="6.3" height="18.10" fill="#fff" stroke="#ed1c24" stroke-width="1.9"/>
<rect x="1234.05" y="439.85" width="6.3" height="112.50" fill="#fff" stroke="#ed1c24" stroke-width="1.9"/>
<rect x="1265.65" y="439.35" width="6.3" height="17.90" fill="#fff" stroke="#ed1c24" stroke-width="1.9"/>
<rect x="1265.65" y="512.75" width="6.3" height="18.30" fill="#fff" stroke="#ed1c24" stroke-width="1.9"/>
<rect x="1297.45" y="455.35" width="6.3" height="57.10" fill="#fff" stroke="#ed1c24" stroke-width="1.9"/>
<rect x="1297.45" y="534.15" width="6.3" height="18.10" fill="#fff" stroke="#ed1c24" stroke-width="1.9"/>
<rect x="1325.95" y="440.85" width="6.3" height="15.40" fill="#fff" stroke="#ed1c24" stroke-width="1.9"/>
<rect x="1325.95" y="475.35" width="6.3" height="17.60" fill="#fff" stroke="#ed1c24" stroke-width="1.9"/>
<rect x="1325.95" y="514.85" width="6.3" height="17.60" fill="#fff" stroke="#ed1c24" stroke-width="1.9"/>
<rect x="1353.35" y="456.85" width="6.3" height="18.10" fill="#fff" stroke="#ed1c24" stroke-width="1.9"/>
<rect x="1353.35" y="495.85" width="6.3" height="17.60" fill="#fff" stroke="#ed1c24" stroke-width="1.9"/>
<rect x="1353.35" y="534.15" width="6.3" height="18.10" fill="#fff" stroke="#ed1c24" stroke-width="1.9"/>
<rect x="1378.85" y="439.85" width="6.3" height="112.50" fill="#fff" stroke="#ed1c24" stroke-width="1.9"/>
<rect x="1424.85" y="439.85" width="6.3" height="112.50" fill="#fff" stroke="#ed1c24" stroke-width="1.9"/>
<rect x="1446.85" y="440.85" width="6.3" height="15.40" fill="#fff" stroke="#ed1c24" stroke-width="1.9"/>
<rect x="1446.85" y="475.35" width="6.3" height="17.60" fill="#fff" stroke="#ed1c24" stroke-width="1.9"/>
<rect x="1446.85" y="514.85" width="6.3" height="17.60" fill="#fff" stroke="#ed1c24" stroke-width="1.9"/>
<rect x="1467.25" y="456.85" width="6.3" height="18.10" fill="#fff" stroke="#ed1c24" stroke-width="1.9"/>
<rect x="1467.25" y="495.85" width="6.3" height="17.60" fill="#fff" stroke="#ed1c24" stroke-width="1.9"/>
<rect x="1467.25" y="534.15" width="6.3" height="18.10" fill="#fff" stroke="#ed1c24" stroke-width="1.9"/>
<rect x="1487.65" y="440.65" width="6.3" height="15.10" fill="#fff" stroke="#ed1c24" stroke-width="1.9"/>
<rect x="1487.65" y="476.85" width="6.3" height="54.60" fill="#fff" stroke="#ed1c24" stroke-width="1.9"/>
<rect x="1504.35" y="459.85" width="6.3" height="15.10" fill="#fff" stroke="#ed1c24" stroke-width="1.9"/>
<rect x="1504.35" y="534.15" width="6.3" height="18.10" fill="#fff" stroke="#ed1c24" stroke-width="1.9"/>
<rect x="1522.65" y="439.85" width="6.3" height="112.50" fill="#fff" stroke="#ed1c24" stroke-width="1.9"/>
<rect x="1539.85" y="439.35" width="6.3" height="17.90" fill="#fff" stroke="#ed1c24" stroke-width="1.9"/>
<rect x="1539.85" y="512.75" width="6.3" height="18.30" fill="#fff" stroke="#ed1c24" stroke-width="1.9"/>
<rect x="1554.95" y="455.35" width="6.3" height="57.10" fill="#fff" stroke="#ed1c24" stroke-width="1.9"/>
<rect x="1554.95" y="534.15" width="6.3" height="18.10" fill="#fff" stroke="#ed1c24" stroke-width="1.9"/>
<rect x="1569.65" y="440.85" width="6.3" height="15.40" fill="#fff" stroke="#ed1c24" stroke-width="1.9"/>
<rect x="1569.65" y="475.35" width="6.3" height="17.60" fill="#fff" stroke="#ed1c24" stroke-width="1.9"/>
<rect x="1569.65" y="514.85" width="6.3" height="17.60" fill="#fff" stroke="#ed1c24" stroke-width="1.9"/>
<text x="836.20" y="93.30" font-family="'Liberation Sans', sans-serif" font-size="19.5" font-weight="bold" font-style="normal" fill="#000" textLength="85.10" lengthAdjust="spacingAndGlyphs"  stroke="#000" stroke-width="0.55" stroke-linejoin="round">A Major</text>
<text x="951.20" y="93.30" font-family="'Liberation Sans', sans-serif" font-size="19.5" font-weight="bold" font-style="normal" fill="#000" textLength="129.60" lengthAdjust="spacingAndGlyphs"  stroke="#000" stroke-width="0.55" stroke-linejoin="round">E Major/m7</text>
<text x="1116.20" y="93.30" font-family="'Liberation Sans', sans-serif" font-size="19.5" font-weight="bold" font-style="normal" fill="#000" textLength="130.40" lengthAdjust="spacingAndGlyphs"  stroke="#000" stroke-width="0.55" stroke-linejoin="round">F#Gb  minor</text>
<text x="1278.00" y="93.30" font-family="'Liberation Sans', sans-serif" font-size="19.5" font-weight="bold" font-style="normal" fill="#000" textLength="152.30" lengthAdjust="spacingAndGlyphs"  stroke="#000" stroke-width="0.55" stroke-linejoin="round">B minor/Maj6</text>
<text x="831.70" y="254.50" font-family="'Liberation Sans', sans-serif" font-size="19.5" font-weight="bold" font-style="normal" fill="#000" textLength="130.10" lengthAdjust="spacingAndGlyphs"  stroke="#000" stroke-width="0.55" stroke-linejoin="round">A#Bb  Major</text>
<text x="1003.70" y="254.50" font-family="'Liberation Sans', sans-serif" font-size="19.5" font-weight="bold" font-style="normal" fill="#000" textLength="128.10" lengthAdjust="spacingAndGlyphs"  stroke="#000" stroke-width="0.55" stroke-linejoin="round">F Major/m7</text>
<text x="1174.20" y="254.50" font-family="'Liberation Sans', sans-serif" font-size="19.5" font-weight="bold" font-style="normal" fill="#000" textLength="87.40" lengthAdjust="spacingAndGlyphs"  stroke="#000" stroke-width="0.55" stroke-linejoin="round">G minor</text>
<text x="1296.20" y="254.50" font-family="'Liberation Sans', sans-serif" font-size="19.5" font-weight="bold" font-style="normal" fill="#000" textLength="152.10" lengthAdjust="spacingAndGlyphs"  stroke="#000" stroke-width="0.55" stroke-linejoin="round">C minor/Maj6</text>
<text x="794.20" y="424.50" font-family="'Liberation Sans', sans-serif" font-size="19.5" font-weight="bold" font-style="normal" fill="#000" textLength="83.60" lengthAdjust="spacingAndGlyphs"  stroke="#000" stroke-width="0.55" stroke-linejoin="round">B Major</text>
<text x="919.70" y="424.50" font-family="'Liberation Sans', sans-serif" font-size="19.5" font-weight="bold" font-style="normal" fill="#000" textLength="174.90" lengthAdjust="spacingAndGlyphs"  stroke="#000" stroke-width="0.55" stroke-linejoin="round">F#Gb  Major/m7</text>
<text x="1136.70" y="424.50" font-family="'Liberation Sans', sans-serif" font-size="19.5" font-weight="bold" font-style="normal" fill="#000" textLength="133.60" lengthAdjust="spacingAndGlyphs"  stroke="#000" stroke-width="0.55" stroke-linejoin="round">G#Ab  minor</text>
<text x="1304.70" y="424.50" font-family="'Liberation Sans', sans-serif" font-size="19.5" font-weight="bold" font-style="normal" fill="#000" textLength="198.10" lengthAdjust="spacingAndGlyphs"  stroke="#000" stroke-width="0.55" stroke-linejoin="round">C#Db  minor/Maj6</text>
<text x="704.30" y="119.80" font-family="'Liberation Sans', sans-serif" font-size="16.6" font-weight="normal" font-style="normal" fill="#000" textLength="8.80" lengthAdjust="spacingAndGlyphs" >E</text>
<text x="702.90" y="139.00" font-family="'Liberation Sans', sans-serif" font-size="16.6" font-weight="normal" font-style="normal" fill="#000" textLength="12.50" lengthAdjust="spacingAndGlyphs" >C</text>
<text x="702.90" y="157.10" font-family="'Liberation Sans', sans-serif" font-size="16.6" font-weight="normal" font-style="normal" fill="#000" textLength="12.50" lengthAdjust="spacingAndGlyphs" >A</text>
<text x="702.30" y="174.50" font-family="'Liberation Sans', sans-serif" font-size="16.6" font-weight="normal" font-style="normal" fill="#000" textLength="13.10" lengthAdjust="spacingAndGlyphs" >G</text>
<text x="704.30" y="193.50" font-family="'Liberation Sans', sans-serif" font-size="16.6" font-weight="normal" font-style="normal" fill="#000" textLength="9.20" lengthAdjust="spacingAndGlyphs" >E</text>
<text x="702.30" y="212.00" font-family="'Liberation Sans', sans-serif" font-size="16.6" font-weight="normal" font-style="normal" fill="#000" textLength="12.60" lengthAdjust="spacingAndGlyphs" >C</text>
</svg>
</body></html>
